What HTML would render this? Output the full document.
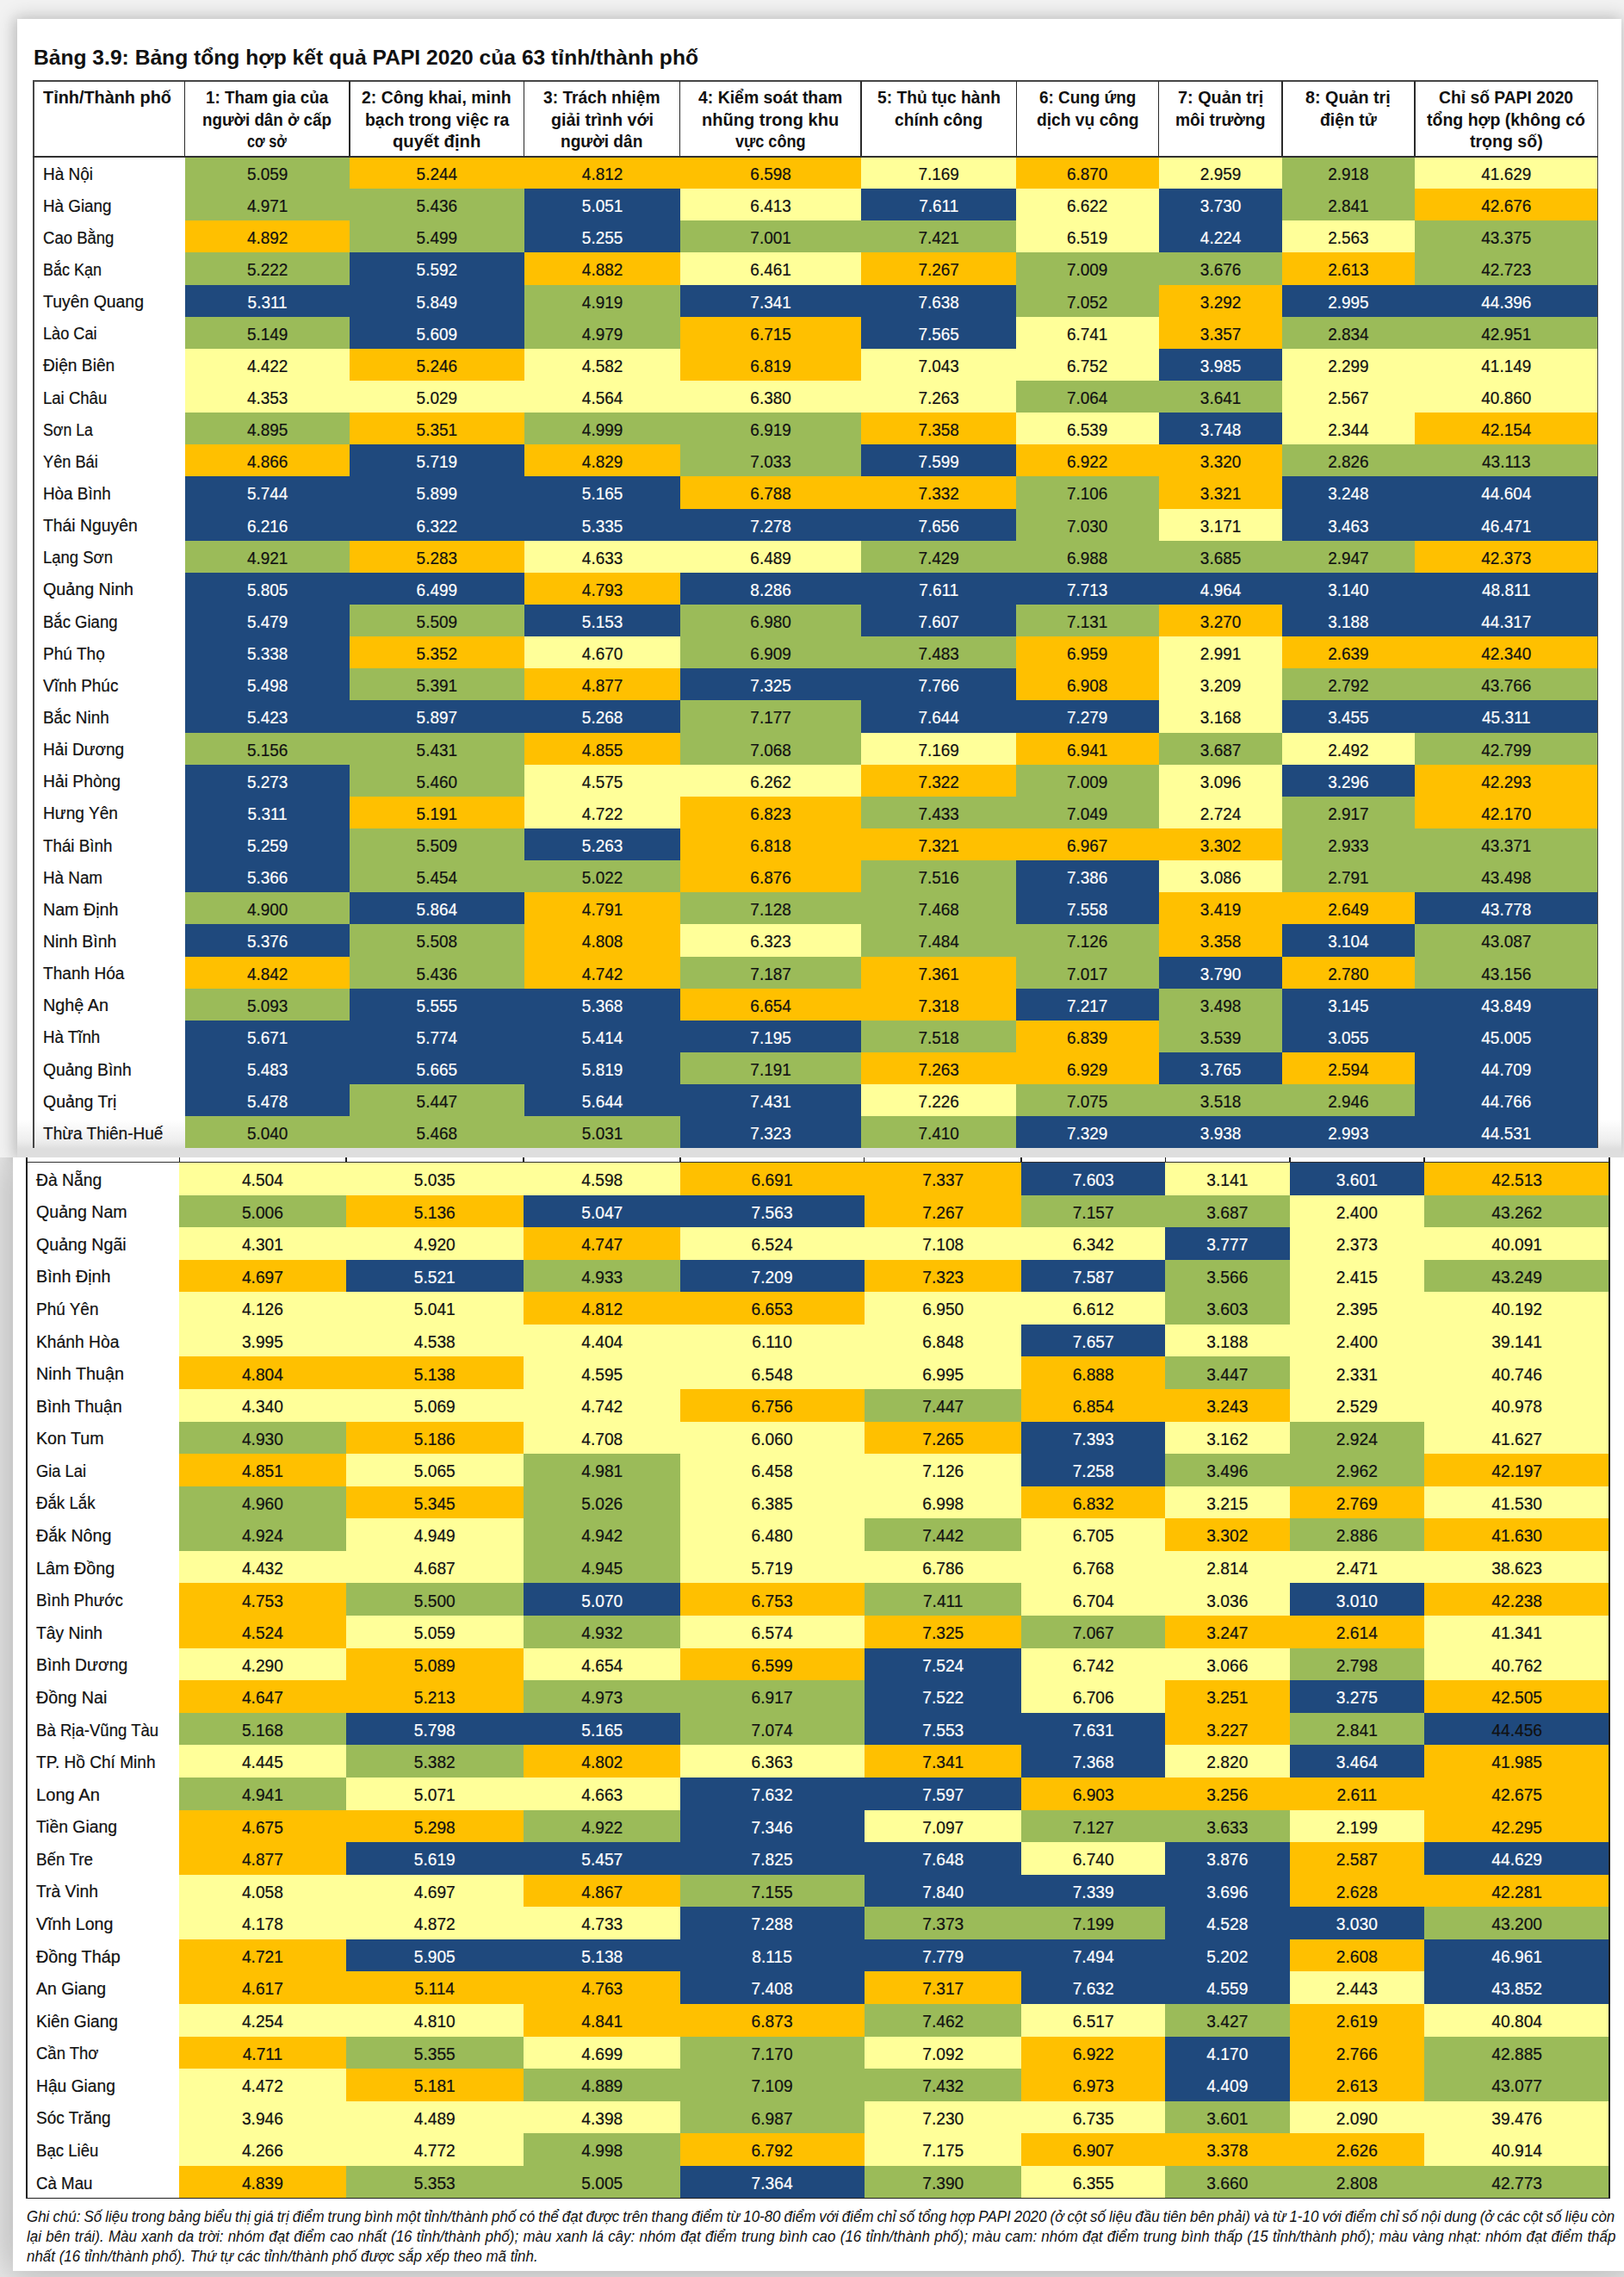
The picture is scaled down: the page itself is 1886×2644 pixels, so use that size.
<!DOCTYPE html>
<html lang="vi"><head><meta charset="utf-8"><title>Bảng 3.9 PAPI 2020</title>
<style>
html,body{margin:0;padding:0}
html{width:1886px;height:2644px;overflow:hidden}
body{width:1886px;height:2644px;overflow:hidden}
#root{width:1886px;height:2644px;position:relative;overflow:hidden;background:#f2f2f2;font-family:"Liberation Sans",sans-serif;color:#111}
.pg{position:absolute;background:#fff}
#p1{left:20px;top:22px;width:1863px;height:1322px;box-shadow:0 0 20px 3px rgba(0,0,0,.18),-4px 0 12px rgba(0,0,0,.07)}
#g1{position:absolute;left:20px;top:1300px;width:1863px;height:44px;background:linear-gradient(rgba(224,224,224,0),rgba(224,224,224,.55) 55%,#dedede 78%,#dedede)}
#p2{left:15px;top:1344px;width:1877px;height:1293px;box-shadow:0 0 50px 12px rgba(0,0,0,.25);clip-path:inset(0 -80px -80px -80px)}
.c{position:absolute;box-sizing:border-box}
.t{position:absolute;white-space:nowrap;transform-origin:0 50%;line-height:1}
.n{position:absolute;text-align:center;white-space:nowrap;line-height:1}
.w{color:#fff}
.ln{position:absolute;background:#464646}
.l2{background:#1e1e1e}

.n{font-size:20.2px;transform:scaleX(0.94)}
.nm{font-size:19.5px}
.n,.nm{-webkit-text-stroke:.2px}
.hd{font-size:20px;font-weight:bold}
.ti{font-size:24px;font-weight:bold}
.ft{font-size:18px;font-style:italic}
</style></head><body><div id="root">
<div class="pg" id="p1"></div>
<div id="g1"></div>
<div class="pg" id="p2"></div>
<div class="t ti" id="title" style="left:39.00px;top:54.50px;transform:scaleX(1.0256);">Bảng 3.9: Bảng tổng hợp kết quả PAPI 2020 của 63 tỉnh/thành phố</div>
<div class="c" style="left:214.50px;top:182.05px;width:192.30px;height:38.14px;background:#9bbb59"></div>
<div class="c" style="left:405.80px;top:182.05px;width:595.10px;height:38.14px;background:#ffc000"></div>
<div class="c" style="left:999.90px;top:182.05px;width:181.40px;height:38.14px;background:#ffff99"></div>
<div class="c" style="left:1180.30px;top:182.05px;width:166.40px;height:38.14px;background:#ffc000"></div>
<div class="c" style="left:1345.70px;top:182.05px;width:144.20px;height:38.14px;background:#ffff99"></div>
<div class="c" style="left:1488.90px;top:182.05px;width:154.90px;height:38.14px;background:#9bbb59"></div>
<div class="c" style="left:1642.80px;top:182.05px;width:212.70px;height:38.14px;background:#ffff99"></div>
<div class="t nm" id="an0" style="left:50.30px;top:192.57px;transform:scaleX(0.9725);">Hà Nội</div>
<div class="n" style="left:214.50px;top:192.02px;width:191.30px">5.059</div>
<div class="n" style="left:405.80px;top:192.02px;width:202.70px">5.244</div>
<div class="n" style="left:608.50px;top:192.02px;width:181.20px">4.812</div>
<div class="n" style="left:789.70px;top:192.02px;width:210.20px">6.598</div>
<div class="n" style="left:999.90px;top:192.02px;width:180.40px">7.169</div>
<div class="n" style="left:1180.30px;top:192.02px;width:165.40px">6.870</div>
<div class="n" style="left:1345.70px;top:192.02px;width:143.20px">2.959</div>
<div class="n" style="left:1488.90px;top:192.02px;width:153.90px">2.918</div>
<div class="n" style="left:1642.80px;top:192.02px;width:212.70px">41.629</div>
<div class="c" style="left:214.50px;top:219.19px;width:395.00px;height:38.14px;background:#9bbb59"></div>
<div class="c" style="left:608.50px;top:219.19px;width:182.20px;height:38.14px;background:#1f497d"></div>
<div class="c" style="left:789.70px;top:219.19px;width:211.20px;height:38.14px;background:#ffff99"></div>
<div class="c" style="left:999.90px;top:219.19px;width:181.40px;height:38.14px;background:#1f497d"></div>
<div class="c" style="left:1180.30px;top:219.19px;width:166.40px;height:38.14px;background:#ffff99"></div>
<div class="c" style="left:1345.70px;top:219.19px;width:144.20px;height:38.14px;background:#1f497d"></div>
<div class="c" style="left:1488.90px;top:219.19px;width:154.90px;height:38.14px;background:#9bbb59"></div>
<div class="c" style="left:1642.80px;top:219.19px;width:212.70px;height:38.14px;background:#ffc000"></div>
<div class="t nm" id="an1" style="left:50.30px;top:229.71px;transform:scaleX(0.9649);">Hà Giang</div>
<div class="n" style="left:214.50px;top:229.16px;width:191.30px">4.971</div>
<div class="n" style="left:405.80px;top:229.16px;width:202.70px">5.436</div>
<div class="n w" style="left:608.50px;top:229.16px;width:181.20px">5.051</div>
<div class="n" style="left:789.70px;top:229.16px;width:210.20px">6.413</div>
<div class="n w" style="left:999.90px;top:229.16px;width:180.40px">7.611</div>
<div class="n" style="left:1180.30px;top:229.16px;width:165.40px">6.622</div>
<div class="n w" style="left:1345.70px;top:229.16px;width:143.20px">3.730</div>
<div class="n" style="left:1488.90px;top:229.16px;width:153.90px">2.841</div>
<div class="n" style="left:1642.80px;top:229.16px;width:212.70px">42.676</div>
<div class="c" style="left:214.50px;top:256.33px;width:192.30px;height:38.14px;background:#ffc000"></div>
<div class="c" style="left:405.80px;top:256.33px;width:203.70px;height:38.14px;background:#9bbb59"></div>
<div class="c" style="left:608.50px;top:256.33px;width:182.20px;height:38.14px;background:#1f497d"></div>
<div class="c" style="left:789.70px;top:256.33px;width:391.60px;height:38.14px;background:#9bbb59"></div>
<div class="c" style="left:1180.30px;top:256.33px;width:166.40px;height:38.14px;background:#ffff99"></div>
<div class="c" style="left:1345.70px;top:256.33px;width:144.20px;height:38.14px;background:#1f497d"></div>
<div class="c" style="left:1488.90px;top:256.33px;width:154.90px;height:38.14px;background:#ffff99"></div>
<div class="c" style="left:1642.80px;top:256.33px;width:212.70px;height:38.14px;background:#9bbb59"></div>
<div class="t nm" id="an2" style="left:50.30px;top:266.85px;transform:scaleX(0.9499);">Cao Bằng</div>
<div class="n" style="left:214.50px;top:266.30px;width:191.30px">4.892</div>
<div class="n" style="left:405.80px;top:266.30px;width:202.70px">5.499</div>
<div class="n w" style="left:608.50px;top:266.30px;width:181.20px">5.255</div>
<div class="n" style="left:789.70px;top:266.30px;width:210.20px">7.001</div>
<div class="n" style="left:999.90px;top:266.30px;width:180.40px">7.421</div>
<div class="n" style="left:1180.30px;top:266.30px;width:165.40px">6.519</div>
<div class="n w" style="left:1345.70px;top:266.30px;width:143.20px">4.224</div>
<div class="n" style="left:1488.90px;top:266.30px;width:153.90px">2.563</div>
<div class="n" style="left:1642.80px;top:266.30px;width:212.70px">43.375</div>
<div class="c" style="left:214.50px;top:293.47px;width:192.30px;height:38.14px;background:#9bbb59"></div>
<div class="c" style="left:405.80px;top:293.47px;width:203.70px;height:38.14px;background:#1f497d"></div>
<div class="c" style="left:608.50px;top:293.47px;width:182.20px;height:38.14px;background:#ffc000"></div>
<div class="c" style="left:789.70px;top:293.47px;width:211.20px;height:38.14px;background:#ffff99"></div>
<div class="c" style="left:999.90px;top:293.47px;width:181.40px;height:38.14px;background:#ffc000"></div>
<div class="c" style="left:1180.30px;top:293.47px;width:309.60px;height:38.14px;background:#9bbb59"></div>
<div class="c" style="left:1488.90px;top:293.47px;width:154.90px;height:38.14px;background:#ffc000"></div>
<div class="c" style="left:1642.80px;top:293.47px;width:212.70px;height:38.14px;background:#9bbb59"></div>
<div class="t nm" id="an3" style="left:50.30px;top:303.99px;transform:scaleX(0.9207);">Bắc Kạn</div>
<div class="n" style="left:214.50px;top:303.44px;width:191.30px">5.222</div>
<div class="n w" style="left:405.80px;top:303.44px;width:202.70px">5.592</div>
<div class="n" style="left:608.50px;top:303.44px;width:181.20px">4.882</div>
<div class="n" style="left:789.70px;top:303.44px;width:210.20px">6.461</div>
<div class="n" style="left:999.90px;top:303.44px;width:180.40px">7.267</div>
<div class="n" style="left:1180.30px;top:303.44px;width:165.40px">7.009</div>
<div class="n" style="left:1345.70px;top:303.44px;width:143.20px">3.676</div>
<div class="n" style="left:1488.90px;top:303.44px;width:153.90px">2.613</div>
<div class="n" style="left:1642.80px;top:303.44px;width:212.70px">42.723</div>
<div class="c" style="left:214.50px;top:330.61px;width:395.00px;height:38.14px;background:#1f497d"></div>
<div class="c" style="left:608.50px;top:330.61px;width:182.20px;height:38.14px;background:#9bbb59"></div>
<div class="c" style="left:789.70px;top:330.61px;width:391.60px;height:38.14px;background:#1f497d"></div>
<div class="c" style="left:1180.30px;top:330.61px;width:166.40px;height:38.14px;background:#9bbb59"></div>
<div class="c" style="left:1345.70px;top:330.61px;width:144.20px;height:38.14px;background:#ffc000"></div>
<div class="c" style="left:1488.90px;top:330.61px;width:366.60px;height:38.14px;background:#1f497d"></div>
<div class="t nm" id="an4" style="left:50.30px;top:341.13px;transform:scaleX(0.9958);">Tuyên Quang</div>
<div class="n w" style="left:214.50px;top:340.58px;width:191.30px">5.311</div>
<div class="n w" style="left:405.80px;top:340.58px;width:202.70px">5.849</div>
<div class="n" style="left:608.50px;top:340.58px;width:181.20px">4.919</div>
<div class="n w" style="left:789.70px;top:340.58px;width:210.20px">7.341</div>
<div class="n w" style="left:999.90px;top:340.58px;width:180.40px">7.638</div>
<div class="n" style="left:1180.30px;top:340.58px;width:165.40px">7.052</div>
<div class="n" style="left:1345.70px;top:340.58px;width:143.20px">3.292</div>
<div class="n w" style="left:1488.90px;top:340.58px;width:153.90px">2.995</div>
<div class="n w" style="left:1642.80px;top:340.58px;width:212.70px">44.396</div>
<div class="c" style="left:214.50px;top:367.75px;width:192.30px;height:38.14px;background:#9bbb59"></div>
<div class="c" style="left:405.80px;top:367.75px;width:203.70px;height:38.14px;background:#1f497d"></div>
<div class="c" style="left:608.50px;top:367.75px;width:182.20px;height:38.14px;background:#9bbb59"></div>
<div class="c" style="left:789.70px;top:367.75px;width:211.20px;height:38.14px;background:#ffc000"></div>
<div class="c" style="left:999.90px;top:367.75px;width:181.40px;height:38.14px;background:#1f497d"></div>
<div class="c" style="left:1180.30px;top:367.75px;width:166.40px;height:38.14px;background:#ffff99"></div>
<div class="c" style="left:1345.70px;top:367.75px;width:144.20px;height:38.14px;background:#ffc000"></div>
<div class="c" style="left:1488.90px;top:367.75px;width:366.60px;height:38.14px;background:#9bbb59"></div>
<div class="t nm" id="an5" style="left:50.30px;top:378.27px;transform:scaleX(0.9317);">Lào Cai</div>
<div class="n" style="left:214.50px;top:377.72px;width:191.30px">5.149</div>
<div class="n w" style="left:405.80px;top:377.72px;width:202.70px">5.609</div>
<div class="n" style="left:608.50px;top:377.72px;width:181.20px">4.979</div>
<div class="n" style="left:789.70px;top:377.72px;width:210.20px">6.715</div>
<div class="n w" style="left:999.90px;top:377.72px;width:180.40px">7.565</div>
<div class="n" style="left:1180.30px;top:377.72px;width:165.40px">6.741</div>
<div class="n" style="left:1345.70px;top:377.72px;width:143.20px">3.357</div>
<div class="n" style="left:1488.90px;top:377.72px;width:153.90px">2.834</div>
<div class="n" style="left:1642.80px;top:377.72px;width:212.70px">42.951</div>
<div class="c" style="left:214.50px;top:404.89px;width:192.30px;height:38.14px;background:#ffff99"></div>
<div class="c" style="left:405.80px;top:404.89px;width:203.70px;height:38.14px;background:#ffc000"></div>
<div class="c" style="left:608.50px;top:404.89px;width:182.20px;height:38.14px;background:#ffff99"></div>
<div class="c" style="left:789.70px;top:404.89px;width:211.20px;height:38.14px;background:#ffc000"></div>
<div class="c" style="left:999.90px;top:404.89px;width:346.80px;height:38.14px;background:#ffff99"></div>
<div class="c" style="left:1345.70px;top:404.89px;width:144.20px;height:38.14px;background:#1f497d"></div>
<div class="c" style="left:1488.90px;top:404.89px;width:366.60px;height:38.14px;background:#ffff99"></div>
<div class="t nm" id="an6" style="left:50.30px;top:415.41px;transform:scaleX(0.9851);">Điện Biên</div>
<div class="n" style="left:214.50px;top:414.86px;width:191.30px">4.422</div>
<div class="n" style="left:405.80px;top:414.86px;width:202.70px">5.246</div>
<div class="n" style="left:608.50px;top:414.86px;width:181.20px">4.582</div>
<div class="n" style="left:789.70px;top:414.86px;width:210.20px">6.819</div>
<div class="n" style="left:999.90px;top:414.86px;width:180.40px">7.043</div>
<div class="n" style="left:1180.30px;top:414.86px;width:165.40px">6.752</div>
<div class="n w" style="left:1345.70px;top:414.86px;width:143.20px">3.985</div>
<div class="n" style="left:1488.90px;top:414.86px;width:153.90px">2.299</div>
<div class="n" style="left:1642.80px;top:414.86px;width:212.70px">41.149</div>
<div class="c" style="left:214.50px;top:442.03px;width:966.80px;height:38.14px;background:#ffff99"></div>
<div class="c" style="left:1180.30px;top:442.03px;width:309.60px;height:38.14px;background:#9bbb59"></div>
<div class="c" style="left:1488.90px;top:442.03px;width:366.60px;height:38.14px;background:#ffff99"></div>
<div class="t nm" id="an7" style="left:50.30px;top:452.55px;transform:scaleX(0.9507);">Lai Châu</div>
<div class="n" style="left:214.50px;top:452.00px;width:191.30px">4.353</div>
<div class="n" style="left:405.80px;top:452.00px;width:202.70px">5.029</div>
<div class="n" style="left:608.50px;top:452.00px;width:181.20px">4.564</div>
<div class="n" style="left:789.70px;top:452.00px;width:210.20px">6.380</div>
<div class="n" style="left:999.90px;top:452.00px;width:180.40px">7.263</div>
<div class="n" style="left:1180.30px;top:452.00px;width:165.40px">7.064</div>
<div class="n" style="left:1345.70px;top:452.00px;width:143.20px">3.641</div>
<div class="n" style="left:1488.90px;top:452.00px;width:153.90px">2.567</div>
<div class="n" style="left:1642.80px;top:452.00px;width:212.70px">40.860</div>
<div class="c" style="left:214.50px;top:479.17px;width:192.30px;height:38.14px;background:#9bbb59"></div>
<div class="c" style="left:405.80px;top:479.17px;width:203.70px;height:38.14px;background:#ffc000"></div>
<div class="c" style="left:608.50px;top:479.17px;width:392.40px;height:38.14px;background:#9bbb59"></div>
<div class="c" style="left:999.90px;top:479.17px;width:181.40px;height:38.14px;background:#ffc000"></div>
<div class="c" style="left:1180.30px;top:479.17px;width:166.40px;height:38.14px;background:#ffff99"></div>
<div class="c" style="left:1345.70px;top:479.17px;width:144.20px;height:38.14px;background:#1f497d"></div>
<div class="c" style="left:1488.90px;top:479.17px;width:154.90px;height:38.14px;background:#ffff99"></div>
<div class="c" style="left:1642.80px;top:479.17px;width:212.70px;height:38.14px;background:#ffc000"></div>
<div class="t nm" id="an8" style="left:50.30px;top:489.69px;transform:scaleX(0.9067);">Sơn La</div>
<div class="n" style="left:214.50px;top:489.14px;width:191.30px">4.895</div>
<div class="n" style="left:405.80px;top:489.14px;width:202.70px">5.351</div>
<div class="n" style="left:608.50px;top:489.14px;width:181.20px">4.999</div>
<div class="n" style="left:789.70px;top:489.14px;width:210.20px">6.919</div>
<div class="n" style="left:999.90px;top:489.14px;width:180.40px">7.358</div>
<div class="n" style="left:1180.30px;top:489.14px;width:165.40px">6.539</div>
<div class="n w" style="left:1345.70px;top:489.14px;width:143.20px">3.748</div>
<div class="n" style="left:1488.90px;top:489.14px;width:153.90px">2.344</div>
<div class="n" style="left:1642.80px;top:489.14px;width:212.70px">42.154</div>
<div class="c" style="left:214.50px;top:516.31px;width:192.30px;height:38.14px;background:#ffc000"></div>
<div class="c" style="left:405.80px;top:516.31px;width:203.70px;height:38.14px;background:#1f497d"></div>
<div class="c" style="left:608.50px;top:516.31px;width:182.20px;height:38.14px;background:#ffc000"></div>
<div class="c" style="left:789.70px;top:516.31px;width:211.20px;height:38.14px;background:#9bbb59"></div>
<div class="c" style="left:999.90px;top:516.31px;width:181.40px;height:38.14px;background:#1f497d"></div>
<div class="c" style="left:1180.30px;top:516.31px;width:309.60px;height:38.14px;background:#ffc000"></div>
<div class="c" style="left:1488.90px;top:516.31px;width:366.60px;height:38.14px;background:#9bbb59"></div>
<div class="t nm" id="an9" style="left:50.30px;top:526.83px;transform:scaleX(0.9338);">Yên Bái</div>
<div class="n" style="left:214.50px;top:526.28px;width:191.30px">4.866</div>
<div class="n w" style="left:405.80px;top:526.28px;width:202.70px">5.719</div>
<div class="n" style="left:608.50px;top:526.28px;width:181.20px">4.829</div>
<div class="n" style="left:789.70px;top:526.28px;width:210.20px">7.033</div>
<div class="n w" style="left:999.90px;top:526.28px;width:180.40px">7.599</div>
<div class="n" style="left:1180.30px;top:526.28px;width:165.40px">6.922</div>
<div class="n" style="left:1345.70px;top:526.28px;width:143.20px">3.320</div>
<div class="n" style="left:1488.90px;top:526.28px;width:153.90px">2.826</div>
<div class="n" style="left:1642.80px;top:526.28px;width:212.70px">43.113</div>
<div class="c" style="left:214.50px;top:553.45px;width:576.20px;height:38.14px;background:#1f497d"></div>
<div class="c" style="left:789.70px;top:553.45px;width:391.60px;height:38.14px;background:#ffc000"></div>
<div class="c" style="left:1180.30px;top:553.45px;width:166.40px;height:38.14px;background:#9bbb59"></div>
<div class="c" style="left:1345.70px;top:553.45px;width:144.20px;height:38.14px;background:#ffc000"></div>
<div class="c" style="left:1488.90px;top:553.45px;width:366.60px;height:38.14px;background:#1f497d"></div>
<div class="t nm" id="an10" style="left:50.30px;top:563.97px;transform:scaleX(0.9672);">Hòa Bình</div>
<div class="n w" style="left:214.50px;top:563.42px;width:191.30px">5.744</div>
<div class="n w" style="left:405.80px;top:563.42px;width:202.70px">5.899</div>
<div class="n w" style="left:608.50px;top:563.42px;width:181.20px">5.165</div>
<div class="n" style="left:789.70px;top:563.42px;width:210.20px">6.788</div>
<div class="n" style="left:999.90px;top:563.42px;width:180.40px">7.332</div>
<div class="n" style="left:1180.30px;top:563.42px;width:165.40px">7.106</div>
<div class="n" style="left:1345.70px;top:563.42px;width:143.20px">3.321</div>
<div class="n w" style="left:1488.90px;top:563.42px;width:153.90px">3.248</div>
<div class="n w" style="left:1642.80px;top:563.42px;width:212.70px">44.604</div>
<div class="c" style="left:214.50px;top:590.59px;width:966.80px;height:38.14px;background:#1f497d"></div>
<div class="c" style="left:1180.30px;top:590.59px;width:166.40px;height:38.14px;background:#9bbb59"></div>
<div class="c" style="left:1345.70px;top:590.59px;width:144.20px;height:38.14px;background:#ffff99"></div>
<div class="c" style="left:1488.90px;top:590.59px;width:366.60px;height:38.14px;background:#1f497d"></div>
<div class="t nm" id="an11" style="left:50.30px;top:601.11px;transform:scaleX(0.9922);">Thái Nguyên</div>
<div class="n w" style="left:214.50px;top:600.56px;width:191.30px">6.216</div>
<div class="n w" style="left:405.80px;top:600.56px;width:202.70px">6.322</div>
<div class="n w" style="left:608.50px;top:600.56px;width:181.20px">5.335</div>
<div class="n w" style="left:789.70px;top:600.56px;width:210.20px">7.278</div>
<div class="n w" style="left:999.90px;top:600.56px;width:180.40px">7.656</div>
<div class="n" style="left:1180.30px;top:600.56px;width:165.40px">7.030</div>
<div class="n" style="left:1345.70px;top:600.56px;width:143.20px">3.171</div>
<div class="n w" style="left:1488.90px;top:600.56px;width:153.90px">3.463</div>
<div class="n w" style="left:1642.80px;top:600.56px;width:212.70px">46.471</div>
<div class="c" style="left:214.50px;top:627.73px;width:192.30px;height:38.14px;background:#9bbb59"></div>
<div class="c" style="left:405.80px;top:627.73px;width:203.70px;height:38.14px;background:#ffc000"></div>
<div class="c" style="left:608.50px;top:627.73px;width:392.40px;height:38.14px;background:#ffff99"></div>
<div class="c" style="left:999.90px;top:627.73px;width:643.90px;height:38.14px;background:#9bbb59"></div>
<div class="c" style="left:1642.80px;top:627.73px;width:212.70px;height:38.14px;background:#ffc000"></div>
<div class="t nm" id="an12" style="left:50.30px;top:638.25px;transform:scaleX(0.9478);">Lạng Sơn</div>
<div class="n" style="left:214.50px;top:637.70px;width:191.30px">4.921</div>
<div class="n" style="left:405.80px;top:637.70px;width:202.70px">5.283</div>
<div class="n" style="left:608.50px;top:637.70px;width:181.20px">4.633</div>
<div class="n" style="left:789.70px;top:637.70px;width:210.20px">6.489</div>
<div class="n" style="left:999.90px;top:637.70px;width:180.40px">7.429</div>
<div class="n" style="left:1180.30px;top:637.70px;width:165.40px">6.988</div>
<div class="n" style="left:1345.70px;top:637.70px;width:143.20px">3.685</div>
<div class="n" style="left:1488.90px;top:637.70px;width:153.90px">2.947</div>
<div class="n" style="left:1642.80px;top:637.70px;width:212.70px">42.373</div>
<div class="c" style="left:214.50px;top:664.87px;width:395.00px;height:38.14px;background:#1f497d"></div>
<div class="c" style="left:608.50px;top:664.87px;width:182.20px;height:38.14px;background:#ffc000"></div>
<div class="c" style="left:789.70px;top:664.87px;width:1065.80px;height:38.14px;background:#1f497d"></div>
<div class="t nm" id="an13" style="left:50.30px;top:675.39px;transform:scaleX(1.0092);">Quảng Ninh</div>
<div class="n w" style="left:214.50px;top:674.84px;width:191.30px">5.805</div>
<div class="n w" style="left:405.80px;top:674.84px;width:202.70px">6.499</div>
<div class="n" style="left:608.50px;top:674.84px;width:181.20px">4.793</div>
<div class="n w" style="left:789.70px;top:674.84px;width:210.20px">8.286</div>
<div class="n w" style="left:999.90px;top:674.84px;width:180.40px">7.611</div>
<div class="n w" style="left:1180.30px;top:674.84px;width:165.40px">7.713</div>
<div class="n w" style="left:1345.70px;top:674.84px;width:143.20px">4.964</div>
<div class="n w" style="left:1488.90px;top:674.84px;width:153.90px">3.140</div>
<div class="n w" style="left:1642.80px;top:674.84px;width:212.70px">48.811</div>
<div class="c" style="left:214.50px;top:702.01px;width:192.30px;height:38.14px;background:#1f497d"></div>
<div class="c" style="left:405.80px;top:702.01px;width:203.70px;height:38.14px;background:#9bbb59"></div>
<div class="c" style="left:608.50px;top:702.01px;width:182.20px;height:38.14px;background:#1f497d"></div>
<div class="c" style="left:789.70px;top:702.01px;width:211.20px;height:38.14px;background:#9bbb59"></div>
<div class="c" style="left:999.90px;top:702.01px;width:181.40px;height:38.14px;background:#1f497d"></div>
<div class="c" style="left:1180.30px;top:702.01px;width:166.40px;height:38.14px;background:#9bbb59"></div>
<div class="c" style="left:1345.70px;top:702.01px;width:144.20px;height:38.14px;background:#ffc000"></div>
<div class="c" style="left:1488.90px;top:702.01px;width:366.60px;height:38.14px;background:#1f497d"></div>
<div class="t nm" id="an14" style="left:50.30px;top:712.53px;transform:scaleX(0.9502);">Bắc Giang</div>
<div class="n w" style="left:214.50px;top:711.98px;width:191.30px">5.479</div>
<div class="n" style="left:405.80px;top:711.98px;width:202.70px">5.509</div>
<div class="n w" style="left:608.50px;top:711.98px;width:181.20px">5.153</div>
<div class="n" style="left:789.70px;top:711.98px;width:210.20px">6.980</div>
<div class="n w" style="left:999.90px;top:711.98px;width:180.40px">7.607</div>
<div class="n" style="left:1180.30px;top:711.98px;width:165.40px">7.131</div>
<div class="n" style="left:1345.70px;top:711.98px;width:143.20px">3.270</div>
<div class="n w" style="left:1488.90px;top:711.98px;width:153.90px">3.188</div>
<div class="n w" style="left:1642.80px;top:711.98px;width:212.70px">44.317</div>
<div class="c" style="left:214.50px;top:739.15px;width:192.30px;height:38.14px;background:#1f497d"></div>
<div class="c" style="left:405.80px;top:739.15px;width:203.70px;height:38.14px;background:#ffc000"></div>
<div class="c" style="left:608.50px;top:739.15px;width:182.20px;height:38.14px;background:#ffff99"></div>
<div class="c" style="left:789.70px;top:739.15px;width:391.60px;height:38.14px;background:#9bbb59"></div>
<div class="c" style="left:1180.30px;top:739.15px;width:166.40px;height:38.14px;background:#ffc000"></div>
<div class="c" style="left:1345.70px;top:739.15px;width:144.20px;height:38.14px;background:#ffff99"></div>
<div class="c" style="left:1488.90px;top:739.15px;width:366.60px;height:38.14px;background:#ffc000"></div>
<div class="t nm" id="an15" style="left:50.30px;top:749.68px;transform:scaleX(0.9783);">Phú Thọ</div>
<div class="n w" style="left:214.50px;top:749.13px;width:191.30px">5.338</div>
<div class="n" style="left:405.80px;top:749.13px;width:202.70px">5.352</div>
<div class="n" style="left:608.50px;top:749.13px;width:181.20px">4.670</div>
<div class="n" style="left:789.70px;top:749.13px;width:210.20px">6.909</div>
<div class="n" style="left:999.90px;top:749.13px;width:180.40px">7.483</div>
<div class="n" style="left:1180.30px;top:749.13px;width:165.40px">6.959</div>
<div class="n" style="left:1345.70px;top:749.13px;width:143.20px">2.991</div>
<div class="n" style="left:1488.90px;top:749.13px;width:153.90px">2.639</div>
<div class="n" style="left:1642.80px;top:749.13px;width:212.70px">42.340</div>
<div class="c" style="left:214.50px;top:776.30px;width:192.30px;height:38.14px;background:#1f497d"></div>
<div class="c" style="left:405.80px;top:776.30px;width:203.70px;height:38.14px;background:#9bbb59"></div>
<div class="c" style="left:608.50px;top:776.30px;width:182.20px;height:38.14px;background:#ffc000"></div>
<div class="c" style="left:789.70px;top:776.30px;width:391.60px;height:38.14px;background:#1f497d"></div>
<div class="c" style="left:1180.30px;top:776.30px;width:166.40px;height:38.14px;background:#ffc000"></div>
<div class="c" style="left:1345.70px;top:776.30px;width:144.20px;height:38.14px;background:#ffff99"></div>
<div class="c" style="left:1488.90px;top:776.30px;width:366.60px;height:38.14px;background:#9bbb59"></div>
<div class="t nm" id="an16" style="left:50.30px;top:786.82px;transform:scaleX(0.9708);">Vĩnh Phúc</div>
<div class="n w" style="left:214.50px;top:786.27px;width:191.30px">5.498</div>
<div class="n" style="left:405.80px;top:786.27px;width:202.70px">5.391</div>
<div class="n" style="left:608.50px;top:786.27px;width:181.20px">4.877</div>
<div class="n w" style="left:789.70px;top:786.27px;width:210.20px">7.325</div>
<div class="n w" style="left:999.90px;top:786.27px;width:180.40px">7.766</div>
<div class="n" style="left:1180.30px;top:786.27px;width:165.40px">6.908</div>
<div class="n" style="left:1345.70px;top:786.27px;width:143.20px">3.209</div>
<div class="n" style="left:1488.90px;top:786.27px;width:153.90px">2.792</div>
<div class="n" style="left:1642.80px;top:786.27px;width:212.70px">43.766</div>
<div class="c" style="left:214.50px;top:813.44px;width:576.20px;height:38.14px;background:#1f497d"></div>
<div class="c" style="left:789.70px;top:813.44px;width:211.20px;height:38.14px;background:#9bbb59"></div>
<div class="c" style="left:999.90px;top:813.44px;width:346.80px;height:38.14px;background:#1f497d"></div>
<div class="c" style="left:1345.70px;top:813.44px;width:144.20px;height:38.14px;background:#ffff99"></div>
<div class="c" style="left:1488.90px;top:813.44px;width:366.60px;height:38.14px;background:#1f497d"></div>
<div class="t nm" id="an17" style="left:50.30px;top:823.96px;transform:scaleX(0.9690);">Bắc Ninh</div>
<div class="n w" style="left:214.50px;top:823.41px;width:191.30px">5.423</div>
<div class="n w" style="left:405.80px;top:823.41px;width:202.70px">5.897</div>
<div class="n w" style="left:608.50px;top:823.41px;width:181.20px">5.268</div>
<div class="n" style="left:789.70px;top:823.41px;width:210.20px">7.177</div>
<div class="n w" style="left:999.90px;top:823.41px;width:180.40px">7.644</div>
<div class="n w" style="left:1180.30px;top:823.41px;width:165.40px">7.279</div>
<div class="n" style="left:1345.70px;top:823.41px;width:143.20px">3.168</div>
<div class="n w" style="left:1488.90px;top:823.41px;width:153.90px">3.455</div>
<div class="n w" style="left:1642.80px;top:823.41px;width:212.70px">45.311</div>
<div class="c" style="left:214.50px;top:850.58px;width:395.00px;height:38.14px;background:#9bbb59"></div>
<div class="c" style="left:608.50px;top:850.58px;width:182.20px;height:38.14px;background:#ffc000"></div>
<div class="c" style="left:789.70px;top:850.58px;width:211.20px;height:38.14px;background:#9bbb59"></div>
<div class="c" style="left:999.90px;top:850.58px;width:181.40px;height:38.14px;background:#ffff99"></div>
<div class="c" style="left:1180.30px;top:850.58px;width:166.40px;height:38.14px;background:#ffc000"></div>
<div class="c" style="left:1345.70px;top:850.58px;width:144.20px;height:38.14px;background:#9bbb59"></div>
<div class="c" style="left:1488.90px;top:850.58px;width:154.90px;height:38.14px;background:#ffff99"></div>
<div class="c" style="left:1642.80px;top:850.58px;width:212.70px;height:38.14px;background:#9bbb59"></div>
<div class="t nm" id="an18" style="left:50.30px;top:861.10px;transform:scaleX(0.9785);">Hải Dương</div>
<div class="n" style="left:214.50px;top:860.55px;width:191.30px">5.156</div>
<div class="n" style="left:405.80px;top:860.55px;width:202.70px">5.431</div>
<div class="n" style="left:608.50px;top:860.55px;width:181.20px">4.855</div>
<div class="n" style="left:789.70px;top:860.55px;width:210.20px">7.068</div>
<div class="n" style="left:999.90px;top:860.55px;width:180.40px">7.169</div>
<div class="n" style="left:1180.30px;top:860.55px;width:165.40px">6.941</div>
<div class="n" style="left:1345.70px;top:860.55px;width:143.20px">3.687</div>
<div class="n" style="left:1488.90px;top:860.55px;width:153.90px">2.492</div>
<div class="n" style="left:1642.80px;top:860.55px;width:212.70px">42.799</div>
<div class="c" style="left:214.50px;top:887.72px;width:192.30px;height:38.14px;background:#1f497d"></div>
<div class="c" style="left:405.80px;top:887.72px;width:203.70px;height:38.14px;background:#9bbb59"></div>
<div class="c" style="left:608.50px;top:887.72px;width:392.40px;height:38.14px;background:#ffff99"></div>
<div class="c" style="left:999.90px;top:887.72px;width:181.40px;height:38.14px;background:#ffc000"></div>
<div class="c" style="left:1180.30px;top:887.72px;width:166.40px;height:38.14px;background:#9bbb59"></div>
<div class="c" style="left:1345.70px;top:887.72px;width:144.20px;height:38.14px;background:#ffff99"></div>
<div class="c" style="left:1488.90px;top:887.72px;width:154.90px;height:38.14px;background:#1f497d"></div>
<div class="c" style="left:1642.80px;top:887.72px;width:212.70px;height:38.14px;background:#ffc000"></div>
<div class="t nm" id="an19" style="left:50.30px;top:898.24px;transform:scaleX(0.9889);">Hải Phòng</div>
<div class="n w" style="left:214.50px;top:897.69px;width:191.30px">5.273</div>
<div class="n" style="left:405.80px;top:897.69px;width:202.70px">5.460</div>
<div class="n" style="left:608.50px;top:897.69px;width:181.20px">4.575</div>
<div class="n" style="left:789.70px;top:897.69px;width:210.20px">6.262</div>
<div class="n" style="left:999.90px;top:897.69px;width:180.40px">7.322</div>
<div class="n" style="left:1180.30px;top:897.69px;width:165.40px">7.009</div>
<div class="n" style="left:1345.70px;top:897.69px;width:143.20px">3.096</div>
<div class="n w" style="left:1488.90px;top:897.69px;width:153.90px">3.296</div>
<div class="n" style="left:1642.80px;top:897.69px;width:212.70px">42.293</div>
<div class="c" style="left:214.50px;top:924.86px;width:192.30px;height:38.14px;background:#1f497d"></div>
<div class="c" style="left:405.80px;top:924.86px;width:203.70px;height:38.14px;background:#ffc000"></div>
<div class="c" style="left:608.50px;top:924.86px;width:182.20px;height:38.14px;background:#ffff99"></div>
<div class="c" style="left:789.70px;top:924.86px;width:211.20px;height:38.14px;background:#ffc000"></div>
<div class="c" style="left:999.90px;top:924.86px;width:346.80px;height:38.14px;background:#9bbb59"></div>
<div class="c" style="left:1345.70px;top:924.86px;width:144.20px;height:38.14px;background:#ffff99"></div>
<div class="c" style="left:1488.90px;top:924.86px;width:154.90px;height:38.14px;background:#9bbb59"></div>
<div class="c" style="left:1642.80px;top:924.86px;width:212.70px;height:38.14px;background:#ffc000"></div>
<div class="t nm" id="an20" style="left:50.30px;top:935.38px;transform:scaleX(0.9814);">Hưng Yên</div>
<div class="n w" style="left:214.50px;top:934.83px;width:191.30px">5.311</div>
<div class="n" style="left:405.80px;top:934.83px;width:202.70px">5.191</div>
<div class="n" style="left:608.50px;top:934.83px;width:181.20px">4.722</div>
<div class="n" style="left:789.70px;top:934.83px;width:210.20px">6.823</div>
<div class="n" style="left:999.90px;top:934.83px;width:180.40px">7.433</div>
<div class="n" style="left:1180.30px;top:934.83px;width:165.40px">7.049</div>
<div class="n" style="left:1345.70px;top:934.83px;width:143.20px">2.724</div>
<div class="n" style="left:1488.90px;top:934.83px;width:153.90px">2.917</div>
<div class="n" style="left:1642.80px;top:934.83px;width:212.70px">42.170</div>
<div class="c" style="left:214.50px;top:962.00px;width:192.30px;height:38.14px;background:#1f497d"></div>
<div class="c" style="left:405.80px;top:962.00px;width:203.70px;height:38.14px;background:#9bbb59"></div>
<div class="c" style="left:608.50px;top:962.00px;width:182.20px;height:38.14px;background:#1f497d"></div>
<div class="c" style="left:789.70px;top:962.00px;width:700.20px;height:38.14px;background:#ffc000"></div>
<div class="c" style="left:1488.90px;top:962.00px;width:366.60px;height:38.14px;background:#9bbb59"></div>
<div class="t nm" id="an21" style="left:50.30px;top:972.52px;transform:scaleX(0.9634);">Thái Bình</div>
<div class="n w" style="left:214.50px;top:971.97px;width:191.30px">5.259</div>
<div class="n" style="left:405.80px;top:971.97px;width:202.70px">5.509</div>
<div class="n w" style="left:608.50px;top:971.97px;width:181.20px">5.263</div>
<div class="n" style="left:789.70px;top:971.97px;width:210.20px">6.818</div>
<div class="n" style="left:999.90px;top:971.97px;width:180.40px">7.321</div>
<div class="n" style="left:1180.30px;top:971.97px;width:165.40px">6.967</div>
<div class="n" style="left:1345.70px;top:971.97px;width:143.20px">3.302</div>
<div class="n" style="left:1488.90px;top:971.97px;width:153.90px">2.933</div>
<div class="n" style="left:1642.80px;top:971.97px;width:212.70px">43.371</div>
<div class="c" style="left:214.50px;top:999.14px;width:192.30px;height:38.14px;background:#1f497d"></div>
<div class="c" style="left:405.80px;top:999.14px;width:384.90px;height:38.14px;background:#9bbb59"></div>
<div class="c" style="left:789.70px;top:999.14px;width:211.20px;height:38.14px;background:#ffc000"></div>
<div class="c" style="left:999.90px;top:999.14px;width:181.40px;height:38.14px;background:#9bbb59"></div>
<div class="c" style="left:1180.30px;top:999.14px;width:166.40px;height:38.14px;background:#1f497d"></div>
<div class="c" style="left:1345.70px;top:999.14px;width:144.20px;height:38.14px;background:#ffff99"></div>
<div class="c" style="left:1488.90px;top:999.14px;width:366.60px;height:38.14px;background:#9bbb59"></div>
<div class="t nm" id="an22" style="left:50.30px;top:1009.66px;transform:scaleX(0.9654);">Hà Nam</div>
<div class="n w" style="left:214.50px;top:1009.11px;width:191.30px">5.366</div>
<div class="n" style="left:405.80px;top:1009.11px;width:202.70px">5.454</div>
<div class="n" style="left:608.50px;top:1009.11px;width:181.20px">5.022</div>
<div class="n" style="left:789.70px;top:1009.11px;width:210.20px">6.876</div>
<div class="n" style="left:999.90px;top:1009.11px;width:180.40px">7.516</div>
<div class="n w" style="left:1180.30px;top:1009.11px;width:165.40px">7.386</div>
<div class="n" style="left:1345.70px;top:1009.11px;width:143.20px">3.086</div>
<div class="n" style="left:1488.90px;top:1009.11px;width:153.90px">2.791</div>
<div class="n" style="left:1642.80px;top:1009.11px;width:212.70px">43.498</div>
<div class="c" style="left:214.50px;top:1036.28px;width:192.30px;height:38.14px;background:#9bbb59"></div>
<div class="c" style="left:405.80px;top:1036.28px;width:203.70px;height:38.14px;background:#1f497d"></div>
<div class="c" style="left:608.50px;top:1036.28px;width:182.20px;height:38.14px;background:#ffc000"></div>
<div class="c" style="left:789.70px;top:1036.28px;width:391.60px;height:38.14px;background:#9bbb59"></div>
<div class="c" style="left:1180.30px;top:1036.28px;width:166.40px;height:38.14px;background:#1f497d"></div>
<div class="c" style="left:1345.70px;top:1036.28px;width:298.10px;height:38.14px;background:#ffc000"></div>
<div class="c" style="left:1642.80px;top:1036.28px;width:212.70px;height:38.14px;background:#1f497d"></div>
<div class="t nm" id="an23" style="left:50.30px;top:1046.80px;transform:scaleX(1.0078);">Nam Định</div>
<div class="n" style="left:214.50px;top:1046.25px;width:191.30px">4.900</div>
<div class="n w" style="left:405.80px;top:1046.25px;width:202.70px">5.864</div>
<div class="n" style="left:608.50px;top:1046.25px;width:181.20px">4.791</div>
<div class="n" style="left:789.70px;top:1046.25px;width:210.20px">7.128</div>
<div class="n" style="left:999.90px;top:1046.25px;width:180.40px">7.468</div>
<div class="n w" style="left:1180.30px;top:1046.25px;width:165.40px">7.558</div>
<div class="n" style="left:1345.70px;top:1046.25px;width:143.20px">3.419</div>
<div class="n" style="left:1488.90px;top:1046.25px;width:153.90px">2.649</div>
<div class="n w" style="left:1642.80px;top:1046.25px;width:212.70px">43.778</div>
<div class="c" style="left:214.50px;top:1073.42px;width:192.30px;height:38.14px;background:#1f497d"></div>
<div class="c" style="left:405.80px;top:1073.42px;width:203.70px;height:38.14px;background:#9bbb59"></div>
<div class="c" style="left:608.50px;top:1073.42px;width:182.20px;height:38.14px;background:#ffc000"></div>
<div class="c" style="left:789.70px;top:1073.42px;width:211.20px;height:38.14px;background:#ffff99"></div>
<div class="c" style="left:999.90px;top:1073.42px;width:346.80px;height:38.14px;background:#9bbb59"></div>
<div class="c" style="left:1345.70px;top:1073.42px;width:144.20px;height:38.14px;background:#ffc000"></div>
<div class="c" style="left:1488.90px;top:1073.42px;width:154.90px;height:38.14px;background:#1f497d"></div>
<div class="c" style="left:1642.80px;top:1073.42px;width:212.70px;height:38.14px;background:#9bbb59"></div>
<div class="t nm" id="an24" style="left:50.30px;top:1083.94px;transform:scaleX(0.9958);">Ninh Bình</div>
<div class="n w" style="left:214.50px;top:1083.39px;width:191.30px">5.376</div>
<div class="n" style="left:405.80px;top:1083.39px;width:202.70px">5.508</div>
<div class="n" style="left:608.50px;top:1083.39px;width:181.20px">4.808</div>
<div class="n" style="left:789.70px;top:1083.39px;width:210.20px">6.323</div>
<div class="n" style="left:999.90px;top:1083.39px;width:180.40px">7.484</div>
<div class="n" style="left:1180.30px;top:1083.39px;width:165.40px">7.126</div>
<div class="n" style="left:1345.70px;top:1083.39px;width:143.20px">3.358</div>
<div class="n w" style="left:1488.90px;top:1083.39px;width:153.90px">3.104</div>
<div class="n" style="left:1642.80px;top:1083.39px;width:212.70px">43.087</div>
<div class="c" style="left:214.50px;top:1110.56px;width:192.30px;height:38.14px;background:#ffc000"></div>
<div class="c" style="left:405.80px;top:1110.56px;width:203.70px;height:38.14px;background:#9bbb59"></div>
<div class="c" style="left:608.50px;top:1110.56px;width:182.20px;height:38.14px;background:#ffc000"></div>
<div class="c" style="left:789.70px;top:1110.56px;width:211.20px;height:38.14px;background:#9bbb59"></div>
<div class="c" style="left:999.90px;top:1110.56px;width:181.40px;height:38.14px;background:#ffc000"></div>
<div class="c" style="left:1180.30px;top:1110.56px;width:166.40px;height:38.14px;background:#9bbb59"></div>
<div class="c" style="left:1345.70px;top:1110.56px;width:144.20px;height:38.14px;background:#1f497d"></div>
<div class="c" style="left:1488.90px;top:1110.56px;width:154.90px;height:38.14px;background:#ffc000"></div>
<div class="c" style="left:1642.80px;top:1110.56px;width:212.70px;height:38.14px;background:#9bbb59"></div>
<div class="t nm" id="an25" style="left:50.30px;top:1121.08px;transform:scaleX(0.9785);">Thanh Hóa</div>
<div class="n" style="left:214.50px;top:1120.53px;width:191.30px">4.842</div>
<div class="n" style="left:405.80px;top:1120.53px;width:202.70px">5.436</div>
<div class="n" style="left:608.50px;top:1120.53px;width:181.20px">4.742</div>
<div class="n" style="left:789.70px;top:1120.53px;width:210.20px">7.187</div>
<div class="n" style="left:999.90px;top:1120.53px;width:180.40px">7.361</div>
<div class="n" style="left:1180.30px;top:1120.53px;width:165.40px">7.017</div>
<div class="n w" style="left:1345.70px;top:1120.53px;width:143.20px">3.790</div>
<div class="n" style="left:1488.90px;top:1120.53px;width:153.90px">2.780</div>
<div class="n" style="left:1642.80px;top:1120.53px;width:212.70px">43.156</div>
<div class="c" style="left:214.50px;top:1147.70px;width:192.30px;height:38.14px;background:#9bbb59"></div>
<div class="c" style="left:405.80px;top:1147.70px;width:384.90px;height:38.14px;background:#1f497d"></div>
<div class="c" style="left:789.70px;top:1147.70px;width:391.60px;height:38.14px;background:#ffc000"></div>
<div class="c" style="left:1180.30px;top:1147.70px;width:166.40px;height:38.14px;background:#1f497d"></div>
<div class="c" style="left:1345.70px;top:1147.70px;width:144.20px;height:38.14px;background:#9bbb59"></div>
<div class="c" style="left:1488.90px;top:1147.70px;width:366.60px;height:38.14px;background:#1f497d"></div>
<div class="t nm" id="an26" style="left:50.30px;top:1158.22px;transform:scaleX(1.0154);">Nghệ An</div>
<div class="n" style="left:214.50px;top:1157.67px;width:191.30px">5.093</div>
<div class="n w" style="left:405.80px;top:1157.67px;width:202.70px">5.555</div>
<div class="n w" style="left:608.50px;top:1157.67px;width:181.20px">5.368</div>
<div class="n" style="left:789.70px;top:1157.67px;width:210.20px">6.654</div>
<div class="n" style="left:999.90px;top:1157.67px;width:180.40px">7.318</div>
<div class="n w" style="left:1180.30px;top:1157.67px;width:165.40px">7.217</div>
<div class="n" style="left:1345.70px;top:1157.67px;width:143.20px">3.498</div>
<div class="n w" style="left:1488.90px;top:1157.67px;width:153.90px">3.145</div>
<div class="n w" style="left:1642.80px;top:1157.67px;width:212.70px">43.849</div>
<div class="c" style="left:214.50px;top:1184.84px;width:786.40px;height:38.14px;background:#1f497d"></div>
<div class="c" style="left:999.90px;top:1184.84px;width:181.40px;height:38.14px;background:#9bbb59"></div>
<div class="c" style="left:1180.30px;top:1184.84px;width:166.40px;height:38.14px;background:#ffc000"></div>
<div class="c" style="left:1345.70px;top:1184.84px;width:144.20px;height:38.14px;background:#9bbb59"></div>
<div class="c" style="left:1488.90px;top:1184.84px;width:366.60px;height:38.14px;background:#1f497d"></div>
<div class="t nm" id="an27" style="left:50.30px;top:1195.36px;transform:scaleX(0.9605);">Hà Tĩnh</div>
<div class="n w" style="left:214.50px;top:1194.81px;width:191.30px">5.671</div>
<div class="n w" style="left:405.80px;top:1194.81px;width:202.70px">5.774</div>
<div class="n w" style="left:608.50px;top:1194.81px;width:181.20px">5.414</div>
<div class="n w" style="left:789.70px;top:1194.81px;width:210.20px">7.195</div>
<div class="n" style="left:999.90px;top:1194.81px;width:180.40px">7.518</div>
<div class="n" style="left:1180.30px;top:1194.81px;width:165.40px">6.839</div>
<div class="n" style="left:1345.70px;top:1194.81px;width:143.20px">3.539</div>
<div class="n w" style="left:1488.90px;top:1194.81px;width:153.90px">3.055</div>
<div class="n w" style="left:1642.80px;top:1194.81px;width:212.70px">45.005</div>
<div class="c" style="left:214.50px;top:1221.98px;width:576.20px;height:38.14px;background:#1f497d"></div>
<div class="c" style="left:789.70px;top:1221.98px;width:211.20px;height:38.14px;background:#9bbb59"></div>
<div class="c" style="left:999.90px;top:1221.98px;width:346.80px;height:38.14px;background:#ffc000"></div>
<div class="c" style="left:1345.70px;top:1221.98px;width:144.20px;height:38.14px;background:#1f497d"></div>
<div class="c" style="left:1488.90px;top:1221.98px;width:154.90px;height:38.14px;background:#ffc000"></div>
<div class="c" style="left:1642.80px;top:1221.98px;width:212.70px;height:38.14px;background:#1f497d"></div>
<div class="t nm" id="an28" style="left:50.30px;top:1232.50px;transform:scaleX(0.9859);">Quảng Bình</div>
<div class="n w" style="left:214.50px;top:1231.95px;width:191.30px">5.483</div>
<div class="n w" style="left:405.80px;top:1231.95px;width:202.70px">5.665</div>
<div class="n w" style="left:608.50px;top:1231.95px;width:181.20px">5.819</div>
<div class="n" style="left:789.70px;top:1231.95px;width:210.20px">7.191</div>
<div class="n" style="left:999.90px;top:1231.95px;width:180.40px">7.263</div>
<div class="n" style="left:1180.30px;top:1231.95px;width:165.40px">6.929</div>
<div class="n w" style="left:1345.70px;top:1231.95px;width:143.20px">3.765</div>
<div class="n" style="left:1488.90px;top:1231.95px;width:153.90px">2.594</div>
<div class="n w" style="left:1642.80px;top:1231.95px;width:212.70px">44.709</div>
<div class="c" style="left:214.50px;top:1259.12px;width:192.30px;height:38.14px;background:#1f497d"></div>
<div class="c" style="left:405.80px;top:1259.12px;width:203.70px;height:38.14px;background:#9bbb59"></div>
<div class="c" style="left:608.50px;top:1259.12px;width:392.40px;height:38.14px;background:#1f497d"></div>
<div class="c" style="left:999.90px;top:1259.12px;width:181.40px;height:38.14px;background:#ffff99"></div>
<div class="c" style="left:1180.30px;top:1259.12px;width:463.50px;height:38.14px;background:#9bbb59"></div>
<div class="c" style="left:1642.80px;top:1259.12px;width:212.70px;height:38.14px;background:#1f497d"></div>
<div class="t nm" id="an29" style="left:50.30px;top:1269.64px;transform:scaleX(0.9972);">Quảng Trị</div>
<div class="n w" style="left:214.50px;top:1269.09px;width:191.30px">5.478</div>
<div class="n" style="left:405.80px;top:1269.09px;width:202.70px">5.447</div>
<div class="n w" style="left:608.50px;top:1269.09px;width:181.20px">5.644</div>
<div class="n w" style="left:789.70px;top:1269.09px;width:210.20px">7.431</div>
<div class="n" style="left:999.90px;top:1269.09px;width:180.40px">7.226</div>
<div class="n" style="left:1180.30px;top:1269.09px;width:165.40px">7.075</div>
<div class="n" style="left:1345.70px;top:1269.09px;width:143.20px">3.518</div>
<div class="n" style="left:1488.90px;top:1269.09px;width:153.90px">2.946</div>
<div class="n w" style="left:1642.80px;top:1269.09px;width:212.70px">44.766</div>
<div class="c" style="left:214.50px;top:1296.26px;width:576.20px;height:37.14px;background:#9bbb59"></div>
<div class="c" style="left:789.70px;top:1296.26px;width:211.20px;height:37.14px;background:#1f497d"></div>
<div class="c" style="left:999.90px;top:1296.26px;width:181.40px;height:37.14px;background:#9bbb59"></div>
<div class="c" style="left:1180.30px;top:1296.26px;width:675.20px;height:37.14px;background:#1f497d"></div>
<div class="t nm" id="an30" style="left:50.30px;top:1306.78px;transform:scaleX(0.9767);">Thừa Thiên-Huế</div>
<div class="n" style="left:214.50px;top:1306.23px;width:191.30px">5.040</div>
<div class="n" style="left:405.80px;top:1306.23px;width:202.70px">5.468</div>
<div class="n" style="left:608.50px;top:1306.23px;width:181.20px">5.031</div>
<div class="n w" style="left:789.70px;top:1306.23px;width:210.20px">7.323</div>
<div class="n" style="left:999.90px;top:1306.23px;width:180.40px">7.410</div>
<div class="n w" style="left:1180.30px;top:1306.23px;width:165.40px">7.329</div>
<div class="n w" style="left:1345.70px;top:1306.23px;width:143.20px">3.938</div>
<div class="n w" style="left:1488.90px;top:1306.23px;width:153.90px">2.993</div>
<div class="n w" style="left:1642.80px;top:1306.23px;width:212.70px">44.531</div>
<div class="c" style="left:208.40px;top:1350.00px;width:582.90px;height:38.58px;background:#ffff99"></div>
<div class="c" style="left:790.30px;top:1350.00px;width:396.70px;height:38.58px;background:#ffc000"></div>
<div class="c" style="left:1186.00px;top:1350.00px;width:168.40px;height:38.58px;background:#1f497d"></div>
<div class="c" style="left:1353.40px;top:1350.00px;width:145.70px;height:38.58px;background:#ffff99"></div>
<div class="c" style="left:1498.10px;top:1350.00px;width:156.70px;height:38.58px;background:#1f497d"></div>
<div class="c" style="left:1653.80px;top:1350.00px;width:215.40px;height:38.58px;background:#ffc000"></div>
<div class="t nm" id="bn0" style="left:42.00px;top:1360.74px;transform:scaleX(0.9794);font-size:19.71px;">Đà Nẵng</div>
<div class="n" style="left:208.40px;top:1360.08px;width:193.90px;font-size:20.42px">4.504</div>
<div class="n" style="left:402.30px;top:1360.08px;width:205.50px;font-size:20.42px">5.035</div>
<div class="n" style="left:607.80px;top:1360.08px;width:182.50px;font-size:20.42px">4.598</div>
<div class="n" style="left:790.30px;top:1360.08px;width:213.20px;font-size:20.42px">6.691</div>
<div class="n" style="left:1003.50px;top:1360.08px;width:182.50px;font-size:20.42px">7.337</div>
<div class="n w" style="left:1186.00px;top:1360.08px;width:167.40px;font-size:20.42px">7.603</div>
<div class="n" style="left:1353.40px;top:1360.08px;width:144.70px;font-size:20.42px">3.141</div>
<div class="n w" style="left:1498.10px;top:1360.08px;width:155.70px;font-size:20.42px">3.601</div>
<div class="n" style="left:1653.80px;top:1360.08px;width:215.40px;font-size:20.42px">42.513</div>
<div class="c" style="left:208.40px;top:1387.58px;width:194.90px;height:38.58px;background:#9bbb59"></div>
<div class="c" style="left:402.30px;top:1387.58px;width:206.50px;height:38.58px;background:#ffc000"></div>
<div class="c" style="left:607.80px;top:1387.58px;width:396.70px;height:38.58px;background:#1f497d"></div>
<div class="c" style="left:1003.50px;top:1387.58px;width:183.50px;height:38.58px;background:#ffc000"></div>
<div class="c" style="left:1186.00px;top:1387.58px;width:313.10px;height:38.58px;background:#9bbb59"></div>
<div class="c" style="left:1498.10px;top:1387.58px;width:156.70px;height:38.58px;background:#ffff99"></div>
<div class="c" style="left:1653.80px;top:1387.58px;width:215.40px;height:38.58px;background:#9bbb59"></div>
<div class="t nm" id="bn1" style="left:42.00px;top:1398.31px;transform:scaleX(0.9948);font-size:19.71px;">Quảng Nam</div>
<div class="n" style="left:208.40px;top:1397.65px;width:193.90px;font-size:20.42px">5.006</div>
<div class="n" style="left:402.30px;top:1397.65px;width:205.50px;font-size:20.42px">5.136</div>
<div class="n w" style="left:607.80px;top:1397.65px;width:182.50px;font-size:20.42px">5.047</div>
<div class="n w" style="left:790.30px;top:1397.65px;width:213.20px;font-size:20.42px">7.563</div>
<div class="n" style="left:1003.50px;top:1397.65px;width:182.50px;font-size:20.42px">7.267</div>
<div class="n" style="left:1186.00px;top:1397.65px;width:167.40px;font-size:20.42px">7.157</div>
<div class="n" style="left:1353.40px;top:1397.65px;width:144.70px;font-size:20.42px">3.687</div>
<div class="n" style="left:1498.10px;top:1397.65px;width:155.70px;font-size:20.42px">2.400</div>
<div class="n" style="left:1653.80px;top:1397.65px;width:215.40px;font-size:20.42px">43.262</div>
<div class="c" style="left:208.40px;top:1425.15px;width:400.40px;height:38.57px;background:#ffff99"></div>
<div class="c" style="left:607.80px;top:1425.15px;width:183.50px;height:38.57px;background:#ffc000"></div>
<div class="c" style="left:790.30px;top:1425.15px;width:564.10px;height:38.57px;background:#ffff99"></div>
<div class="c" style="left:1353.40px;top:1425.15px;width:145.70px;height:38.57px;background:#1f497d"></div>
<div class="c" style="left:1498.10px;top:1425.15px;width:371.10px;height:38.57px;background:#ffff99"></div>
<div class="t nm" id="bn2" style="left:42.00px;top:1435.89px;transform:scaleX(0.9968);font-size:19.71px;">Quảng Ngãi</div>
<div class="n" style="left:208.40px;top:1435.23px;width:193.90px;font-size:20.42px">4.301</div>
<div class="n" style="left:402.30px;top:1435.23px;width:205.50px;font-size:20.42px">4.920</div>
<div class="n" style="left:607.80px;top:1435.23px;width:182.50px;font-size:20.42px">4.747</div>
<div class="n" style="left:790.30px;top:1435.23px;width:213.20px;font-size:20.42px">6.524</div>
<div class="n" style="left:1003.50px;top:1435.23px;width:182.50px;font-size:20.42px">7.108</div>
<div class="n" style="left:1186.00px;top:1435.23px;width:167.40px;font-size:20.42px">6.342</div>
<div class="n w" style="left:1353.40px;top:1435.23px;width:144.70px;font-size:20.42px">3.777</div>
<div class="n" style="left:1498.10px;top:1435.23px;width:155.70px;font-size:20.42px">2.373</div>
<div class="n" style="left:1653.80px;top:1435.23px;width:215.40px;font-size:20.42px">40.091</div>
<div class="c" style="left:208.40px;top:1462.72px;width:194.90px;height:38.58px;background:#ffc000"></div>
<div class="c" style="left:402.30px;top:1462.72px;width:206.50px;height:38.58px;background:#1f497d"></div>
<div class="c" style="left:607.80px;top:1462.72px;width:183.50px;height:38.58px;background:#9bbb59"></div>
<div class="c" style="left:790.30px;top:1462.72px;width:214.20px;height:38.58px;background:#1f497d"></div>
<div class="c" style="left:1003.50px;top:1462.72px;width:183.50px;height:38.58px;background:#ffc000"></div>
<div class="c" style="left:1186.00px;top:1462.72px;width:168.40px;height:38.58px;background:#1f497d"></div>
<div class="c" style="left:1353.40px;top:1462.72px;width:145.70px;height:38.58px;background:#9bbb59"></div>
<div class="c" style="left:1498.10px;top:1462.72px;width:156.70px;height:38.58px;background:#ffff99"></div>
<div class="c" style="left:1653.80px;top:1462.72px;width:215.40px;height:38.58px;background:#9bbb59"></div>
<div class="t nm" id="bn3" style="left:42.00px;top:1473.46px;transform:scaleX(1.0003);font-size:19.71px;">Bình Định</div>
<div class="n" style="left:208.40px;top:1472.80px;width:193.90px;font-size:20.42px">4.697</div>
<div class="n w" style="left:402.30px;top:1472.80px;width:205.50px;font-size:20.42px">5.521</div>
<div class="n" style="left:607.80px;top:1472.80px;width:182.50px;font-size:20.42px">4.933</div>
<div class="n w" style="left:790.30px;top:1472.80px;width:213.20px;font-size:20.42px">7.209</div>
<div class="n" style="left:1003.50px;top:1472.80px;width:182.50px;font-size:20.42px">7.323</div>
<div class="n w" style="left:1186.00px;top:1472.80px;width:167.40px;font-size:20.42px">7.587</div>
<div class="n" style="left:1353.40px;top:1472.80px;width:144.70px;font-size:20.42px">3.566</div>
<div class="n" style="left:1498.10px;top:1472.80px;width:155.70px;font-size:20.42px">2.415</div>
<div class="n" style="left:1653.80px;top:1472.80px;width:215.40px;font-size:20.42px">43.249</div>
<div class="c" style="left:208.40px;top:1500.30px;width:400.40px;height:38.58px;background:#ffff99"></div>
<div class="c" style="left:607.80px;top:1500.30px;width:396.70px;height:38.58px;background:#ffc000"></div>
<div class="c" style="left:1003.50px;top:1500.30px;width:350.90px;height:38.58px;background:#ffff99"></div>
<div class="c" style="left:1353.40px;top:1500.30px;width:145.70px;height:38.58px;background:#9bbb59"></div>
<div class="c" style="left:1498.10px;top:1500.30px;width:371.10px;height:38.58px;background:#ffff99"></div>
<div class="t nm" id="bn4" style="left:42.00px;top:1511.04px;transform:scaleX(0.9641);font-size:19.71px;">Phú Yên</div>
<div class="n" style="left:208.40px;top:1510.38px;width:193.90px;font-size:20.42px">4.126</div>
<div class="n" style="left:402.30px;top:1510.38px;width:205.50px;font-size:20.42px">5.041</div>
<div class="n" style="left:607.80px;top:1510.38px;width:182.50px;font-size:20.42px">4.812</div>
<div class="n" style="left:790.30px;top:1510.38px;width:213.20px;font-size:20.42px">6.653</div>
<div class="n" style="left:1003.50px;top:1510.38px;width:182.50px;font-size:20.42px">6.950</div>
<div class="n" style="left:1186.00px;top:1510.38px;width:167.40px;font-size:20.42px">6.612</div>
<div class="n" style="left:1353.40px;top:1510.38px;width:144.70px;font-size:20.42px">3.603</div>
<div class="n" style="left:1498.10px;top:1510.38px;width:155.70px;font-size:20.42px">2.395</div>
<div class="n" style="left:1653.80px;top:1510.38px;width:215.40px;font-size:20.42px">40.192</div>
<div class="c" style="left:208.40px;top:1537.88px;width:978.60px;height:38.58px;background:#ffff99"></div>
<div class="c" style="left:1186.00px;top:1537.88px;width:168.40px;height:38.58px;background:#1f497d"></div>
<div class="c" style="left:1353.40px;top:1537.88px;width:515.80px;height:38.58px;background:#ffff99"></div>
<div class="t nm" id="bn5" style="left:42.00px;top:1548.61px;transform:scaleX(0.9785);font-size:19.71px;">Khánh Hòa</div>
<div class="n" style="left:208.40px;top:1547.95px;width:193.90px;font-size:20.42px">3.995</div>
<div class="n" style="left:402.30px;top:1547.95px;width:205.50px;font-size:20.42px">4.538</div>
<div class="n" style="left:607.80px;top:1547.95px;width:182.50px;font-size:20.42px">4.404</div>
<div class="n" style="left:790.30px;top:1547.95px;width:213.20px;font-size:20.42px">6.110</div>
<div class="n" style="left:1003.50px;top:1547.95px;width:182.50px;font-size:20.42px">6.848</div>
<div class="n w" style="left:1186.00px;top:1547.95px;width:167.40px;font-size:20.42px">7.657</div>
<div class="n" style="left:1353.40px;top:1547.95px;width:144.70px;font-size:20.42px">3.188</div>
<div class="n" style="left:1498.10px;top:1547.95px;width:155.70px;font-size:20.42px">2.400</div>
<div class="n" style="left:1653.80px;top:1547.95px;width:215.40px;font-size:20.42px">39.141</div>
<div class="c" style="left:208.40px;top:1575.45px;width:400.40px;height:38.58px;background:#ffc000"></div>
<div class="c" style="left:607.80px;top:1575.45px;width:579.20px;height:38.58px;background:#ffff99"></div>
<div class="c" style="left:1186.00px;top:1575.45px;width:168.40px;height:38.58px;background:#ffc000"></div>
<div class="c" style="left:1353.40px;top:1575.45px;width:145.70px;height:38.58px;background:#9bbb59"></div>
<div class="c" style="left:1498.10px;top:1575.45px;width:371.10px;height:38.58px;background:#ffff99"></div>
<div class="t nm" id="bn6" style="left:42.00px;top:1586.19px;transform:scaleX(1.0063);font-size:19.71px;">Ninh Thuận</div>
<div class="n" style="left:208.40px;top:1585.53px;width:193.90px;font-size:20.42px">4.804</div>
<div class="n" style="left:402.30px;top:1585.53px;width:205.50px;font-size:20.42px">5.138</div>
<div class="n" style="left:607.80px;top:1585.53px;width:182.50px;font-size:20.42px">4.595</div>
<div class="n" style="left:790.30px;top:1585.53px;width:213.20px;font-size:20.42px">6.548</div>
<div class="n" style="left:1003.50px;top:1585.53px;width:182.50px;font-size:20.42px">6.995</div>
<div class="n" style="left:1186.00px;top:1585.53px;width:167.40px;font-size:20.42px">6.888</div>
<div class="n" style="left:1353.40px;top:1585.53px;width:144.70px;font-size:20.42px">3.447</div>
<div class="n" style="left:1498.10px;top:1585.53px;width:155.70px;font-size:20.42px">2.331</div>
<div class="n" style="left:1653.80px;top:1585.53px;width:215.40px;font-size:20.42px">40.746</div>
<div class="c" style="left:208.40px;top:1613.03px;width:582.90px;height:38.57px;background:#ffff99"></div>
<div class="c" style="left:790.30px;top:1613.03px;width:214.20px;height:38.57px;background:#ffc000"></div>
<div class="c" style="left:1003.50px;top:1613.03px;width:183.50px;height:38.57px;background:#9bbb59"></div>
<div class="c" style="left:1186.00px;top:1613.03px;width:313.10px;height:38.57px;background:#ffc000"></div>
<div class="c" style="left:1498.10px;top:1613.03px;width:371.10px;height:38.57px;background:#ffff99"></div>
<div class="t nm" id="bn7" style="left:42.00px;top:1623.76px;transform:scaleX(0.9822);font-size:19.71px;">Bình Thuận</div>
<div class="n" style="left:208.40px;top:1623.10px;width:193.90px;font-size:20.42px">4.340</div>
<div class="n" style="left:402.30px;top:1623.10px;width:205.50px;font-size:20.42px">5.069</div>
<div class="n" style="left:607.80px;top:1623.10px;width:182.50px;font-size:20.42px">4.742</div>
<div class="n" style="left:790.30px;top:1623.10px;width:213.20px;font-size:20.42px">6.756</div>
<div class="n" style="left:1003.50px;top:1623.10px;width:182.50px;font-size:20.42px">7.447</div>
<div class="n" style="left:1186.00px;top:1623.10px;width:167.40px;font-size:20.42px">6.854</div>
<div class="n" style="left:1353.40px;top:1623.10px;width:144.70px;font-size:20.42px">3.243</div>
<div class="n" style="left:1498.10px;top:1623.10px;width:155.70px;font-size:20.42px">2.529</div>
<div class="n" style="left:1653.80px;top:1623.10px;width:215.40px;font-size:20.42px">40.978</div>
<div class="c" style="left:208.40px;top:1650.60px;width:194.90px;height:38.58px;background:#9bbb59"></div>
<div class="c" style="left:402.30px;top:1650.60px;width:206.50px;height:38.58px;background:#ffc000"></div>
<div class="c" style="left:607.80px;top:1650.60px;width:396.70px;height:38.58px;background:#ffff99"></div>
<div class="c" style="left:1003.50px;top:1650.60px;width:183.50px;height:38.58px;background:#ffc000"></div>
<div class="c" style="left:1186.00px;top:1650.60px;width:168.40px;height:38.58px;background:#1f497d"></div>
<div class="c" style="left:1353.40px;top:1650.60px;width:145.70px;height:38.58px;background:#ffff99"></div>
<div class="c" style="left:1498.10px;top:1650.60px;width:156.70px;height:38.58px;background:#9bbb59"></div>
<div class="c" style="left:1653.80px;top:1650.60px;width:215.40px;height:38.58px;background:#ffff99"></div>
<div class="t nm" id="bn8" style="left:42.00px;top:1661.34px;transform:scaleX(0.9981);font-size:19.71px;">Kon Tum</div>
<div class="n" style="left:208.40px;top:1660.68px;width:193.90px;font-size:20.42px">4.930</div>
<div class="n" style="left:402.30px;top:1660.68px;width:205.50px;font-size:20.42px">5.186</div>
<div class="n" style="left:607.80px;top:1660.68px;width:182.50px;font-size:20.42px">4.708</div>
<div class="n" style="left:790.30px;top:1660.68px;width:213.20px;font-size:20.42px">6.060</div>
<div class="n" style="left:1003.50px;top:1660.68px;width:182.50px;font-size:20.42px">7.265</div>
<div class="n w" style="left:1186.00px;top:1660.68px;width:167.40px;font-size:20.42px">7.393</div>
<div class="n" style="left:1353.40px;top:1660.68px;width:144.70px;font-size:20.42px">3.162</div>
<div class="n" style="left:1498.10px;top:1660.68px;width:155.70px;font-size:20.42px">2.924</div>
<div class="n" style="left:1653.80px;top:1660.68px;width:215.40px;font-size:20.42px">41.627</div>
<div class="c" style="left:208.40px;top:1688.17px;width:194.90px;height:38.58px;background:#ffc000"></div>
<div class="c" style="left:402.30px;top:1688.17px;width:206.50px;height:38.58px;background:#ffff99"></div>
<div class="c" style="left:607.80px;top:1688.17px;width:183.50px;height:38.58px;background:#9bbb59"></div>
<div class="c" style="left:790.30px;top:1688.17px;width:396.70px;height:38.58px;background:#ffff99"></div>
<div class="c" style="left:1186.00px;top:1688.17px;width:168.40px;height:38.58px;background:#1f497d"></div>
<div class="c" style="left:1353.40px;top:1688.17px;width:301.40px;height:38.58px;background:#9bbb59"></div>
<div class="c" style="left:1653.80px;top:1688.17px;width:215.40px;height:38.58px;background:#ffc000"></div>
<div class="t nm" id="bn9" style="left:42.00px;top:1698.91px;transform:scaleX(0.9309);font-size:19.71px;">Gia Lai</div>
<div class="n" style="left:208.40px;top:1698.25px;width:193.90px;font-size:20.42px">4.851</div>
<div class="n" style="left:402.30px;top:1698.25px;width:205.50px;font-size:20.42px">5.065</div>
<div class="n" style="left:607.80px;top:1698.25px;width:182.50px;font-size:20.42px">4.981</div>
<div class="n" style="left:790.30px;top:1698.25px;width:213.20px;font-size:20.42px">6.458</div>
<div class="n" style="left:1003.50px;top:1698.25px;width:182.50px;font-size:20.42px">7.126</div>
<div class="n w" style="left:1186.00px;top:1698.25px;width:167.40px;font-size:20.42px">7.258</div>
<div class="n" style="left:1353.40px;top:1698.25px;width:144.70px;font-size:20.42px">3.496</div>
<div class="n" style="left:1498.10px;top:1698.25px;width:155.70px;font-size:20.42px">2.962</div>
<div class="n" style="left:1653.80px;top:1698.25px;width:215.40px;font-size:20.42px">42.197</div>
<div class="c" style="left:208.40px;top:1725.75px;width:194.90px;height:38.58px;background:#9bbb59"></div>
<div class="c" style="left:402.30px;top:1725.75px;width:206.50px;height:38.58px;background:#ffc000"></div>
<div class="c" style="left:607.80px;top:1725.75px;width:183.50px;height:38.58px;background:#9bbb59"></div>
<div class="c" style="left:790.30px;top:1725.75px;width:396.70px;height:38.58px;background:#ffff99"></div>
<div class="c" style="left:1186.00px;top:1725.75px;width:168.40px;height:38.58px;background:#ffc000"></div>
<div class="c" style="left:1353.40px;top:1725.75px;width:145.70px;height:38.58px;background:#ffff99"></div>
<div class="c" style="left:1498.10px;top:1725.75px;width:156.70px;height:38.58px;background:#ffc000"></div>
<div class="c" style="left:1653.80px;top:1725.75px;width:215.40px;height:38.58px;background:#ffff99"></div>
<div class="t nm" id="bn10" style="left:42.00px;top:1736.49px;transform:scaleX(0.9482);font-size:19.71px;">Đắk Lắk</div>
<div class="n" style="left:208.40px;top:1735.83px;width:193.90px;font-size:20.42px">4.960</div>
<div class="n" style="left:402.30px;top:1735.83px;width:205.50px;font-size:20.42px">5.345</div>
<div class="n" style="left:607.80px;top:1735.83px;width:182.50px;font-size:20.42px">5.026</div>
<div class="n" style="left:790.30px;top:1735.83px;width:213.20px;font-size:20.42px">6.385</div>
<div class="n" style="left:1003.50px;top:1735.83px;width:182.50px;font-size:20.42px">6.998</div>
<div class="n" style="left:1186.00px;top:1735.83px;width:167.40px;font-size:20.42px">6.832</div>
<div class="n" style="left:1353.40px;top:1735.83px;width:144.70px;font-size:20.42px">3.215</div>
<div class="n" style="left:1498.10px;top:1735.83px;width:155.70px;font-size:20.42px">2.769</div>
<div class="n" style="left:1653.80px;top:1735.83px;width:215.40px;font-size:20.42px">41.530</div>
<div class="c" style="left:208.40px;top:1763.33px;width:194.90px;height:38.58px;background:#9bbb59"></div>
<div class="c" style="left:402.30px;top:1763.33px;width:206.50px;height:38.58px;background:#ffff99"></div>
<div class="c" style="left:607.80px;top:1763.33px;width:183.50px;height:38.58px;background:#9bbb59"></div>
<div class="c" style="left:790.30px;top:1763.33px;width:214.20px;height:38.58px;background:#ffff99"></div>
<div class="c" style="left:1003.50px;top:1763.33px;width:183.50px;height:38.58px;background:#9bbb59"></div>
<div class="c" style="left:1186.00px;top:1763.33px;width:168.40px;height:38.58px;background:#ffff99"></div>
<div class="c" style="left:1353.40px;top:1763.33px;width:145.70px;height:38.58px;background:#ffc000"></div>
<div class="c" style="left:1498.10px;top:1763.33px;width:156.70px;height:38.58px;background:#9bbb59"></div>
<div class="c" style="left:1653.80px;top:1763.33px;width:215.40px;height:38.58px;background:#ffc000"></div>
<div class="t nm" id="bn11" style="left:42.00px;top:1774.06px;transform:scaleX(0.9980);font-size:19.71px;">Đắk Nông</div>
<div class="n" style="left:208.40px;top:1773.40px;width:193.90px;font-size:20.42px">4.924</div>
<div class="n" style="left:402.30px;top:1773.40px;width:205.50px;font-size:20.42px">4.949</div>
<div class="n" style="left:607.80px;top:1773.40px;width:182.50px;font-size:20.42px">4.942</div>
<div class="n" style="left:790.30px;top:1773.40px;width:213.20px;font-size:20.42px">6.480</div>
<div class="n" style="left:1003.50px;top:1773.40px;width:182.50px;font-size:20.42px">7.442</div>
<div class="n" style="left:1186.00px;top:1773.40px;width:167.40px;font-size:20.42px">6.705</div>
<div class="n" style="left:1353.40px;top:1773.40px;width:144.70px;font-size:20.42px">3.302</div>
<div class="n" style="left:1498.10px;top:1773.40px;width:155.70px;font-size:20.42px">2.886</div>
<div class="n" style="left:1653.80px;top:1773.40px;width:215.40px;font-size:20.42px">41.630</div>
<div class="c" style="left:208.40px;top:1800.90px;width:400.40px;height:38.57px;background:#ffff99"></div>
<div class="c" style="left:607.80px;top:1800.90px;width:183.50px;height:38.57px;background:#9bbb59"></div>
<div class="c" style="left:790.30px;top:1800.90px;width:1078.90px;height:38.57px;background:#ffff99"></div>
<div class="t nm" id="bn12" style="left:42.00px;top:1811.64px;transform:scaleX(1.0032);font-size:19.71px;">Lâm Đồng</div>
<div class="n" style="left:208.40px;top:1810.98px;width:193.90px;font-size:20.42px">4.432</div>
<div class="n" style="left:402.30px;top:1810.98px;width:205.50px;font-size:20.42px">4.687</div>
<div class="n" style="left:607.80px;top:1810.98px;width:182.50px;font-size:20.42px">4.945</div>
<div class="n" style="left:790.30px;top:1810.98px;width:213.20px;font-size:20.42px">5.719</div>
<div class="n" style="left:1003.50px;top:1810.98px;width:182.50px;font-size:20.42px">6.786</div>
<div class="n" style="left:1186.00px;top:1810.98px;width:167.40px;font-size:20.42px">6.768</div>
<div class="n" style="left:1353.40px;top:1810.98px;width:144.70px;font-size:20.42px">2.814</div>
<div class="n" style="left:1498.10px;top:1810.98px;width:155.70px;font-size:20.42px">2.471</div>
<div class="n" style="left:1653.80px;top:1810.98px;width:215.40px;font-size:20.42px">38.623</div>
<div class="c" style="left:208.40px;top:1838.47px;width:194.90px;height:38.58px;background:#ffc000"></div>
<div class="c" style="left:402.30px;top:1838.47px;width:206.50px;height:38.58px;background:#9bbb59"></div>
<div class="c" style="left:607.80px;top:1838.47px;width:183.50px;height:38.58px;background:#1f497d"></div>
<div class="c" style="left:790.30px;top:1838.47px;width:214.20px;height:38.58px;background:#ffc000"></div>
<div class="c" style="left:1003.50px;top:1838.47px;width:183.50px;height:38.58px;background:#9bbb59"></div>
<div class="c" style="left:1186.00px;top:1838.47px;width:313.10px;height:38.58px;background:#ffff99"></div>
<div class="c" style="left:1498.10px;top:1838.47px;width:156.70px;height:38.58px;background:#1f497d"></div>
<div class="c" style="left:1653.80px;top:1838.47px;width:215.40px;height:38.58px;background:#ffc000"></div>
<div class="t nm" id="bn13" style="left:42.00px;top:1849.21px;transform:scaleX(0.9530);font-size:19.71px;">Bình Phước</div>
<div class="n" style="left:208.40px;top:1848.55px;width:193.90px;font-size:20.42px">4.753</div>
<div class="n" style="left:402.30px;top:1848.55px;width:205.50px;font-size:20.42px">5.500</div>
<div class="n w" style="left:607.80px;top:1848.55px;width:182.50px;font-size:20.42px">5.070</div>
<div class="n" style="left:790.30px;top:1848.55px;width:213.20px;font-size:20.42px">6.753</div>
<div class="n" style="left:1003.50px;top:1848.55px;width:182.50px;font-size:20.42px">7.411</div>
<div class="n" style="left:1186.00px;top:1848.55px;width:167.40px;font-size:20.42px">6.704</div>
<div class="n" style="left:1353.40px;top:1848.55px;width:144.70px;font-size:20.42px">3.036</div>
<div class="n w" style="left:1498.10px;top:1848.55px;width:155.70px;font-size:20.42px">3.010</div>
<div class="n" style="left:1653.80px;top:1848.55px;width:215.40px;font-size:20.42px">42.238</div>
<div class="c" style="left:208.40px;top:1876.05px;width:194.90px;height:38.57px;background:#ffc000"></div>
<div class="c" style="left:402.30px;top:1876.05px;width:206.50px;height:38.57px;background:#ffff99"></div>
<div class="c" style="left:607.80px;top:1876.05px;width:183.50px;height:38.57px;background:#9bbb59"></div>
<div class="c" style="left:790.30px;top:1876.05px;width:214.20px;height:38.57px;background:#ffff99"></div>
<div class="c" style="left:1003.50px;top:1876.05px;width:183.50px;height:38.57px;background:#ffc000"></div>
<div class="c" style="left:1186.00px;top:1876.05px;width:168.40px;height:38.57px;background:#9bbb59"></div>
<div class="c" style="left:1353.40px;top:1876.05px;width:301.40px;height:38.57px;background:#ffc000"></div>
<div class="c" style="left:1653.80px;top:1876.05px;width:215.40px;height:38.57px;background:#ffff99"></div>
<div class="t nm" id="bn14" style="left:42.00px;top:1886.79px;transform:scaleX(0.9780);font-size:19.71px;">Tây Ninh</div>
<div class="n" style="left:208.40px;top:1886.13px;width:193.90px;font-size:20.42px">4.524</div>
<div class="n" style="left:402.30px;top:1886.13px;width:205.50px;font-size:20.42px">5.059</div>
<div class="n" style="left:607.80px;top:1886.13px;width:182.50px;font-size:20.42px">4.932</div>
<div class="n" style="left:790.30px;top:1886.13px;width:213.20px;font-size:20.42px">6.574</div>
<div class="n" style="left:1003.50px;top:1886.13px;width:182.50px;font-size:20.42px">7.325</div>
<div class="n" style="left:1186.00px;top:1886.13px;width:167.40px;font-size:20.42px">7.067</div>
<div class="n" style="left:1353.40px;top:1886.13px;width:144.70px;font-size:20.42px">3.247</div>
<div class="n" style="left:1498.10px;top:1886.13px;width:155.70px;font-size:20.42px">2.614</div>
<div class="n" style="left:1653.80px;top:1886.13px;width:215.40px;font-size:20.42px">41.341</div>
<div class="c" style="left:208.40px;top:1913.62px;width:194.90px;height:38.58px;background:#ffff99"></div>
<div class="c" style="left:402.30px;top:1913.62px;width:206.50px;height:38.58px;background:#ffc000"></div>
<div class="c" style="left:607.80px;top:1913.62px;width:183.50px;height:38.58px;background:#ffff99"></div>
<div class="c" style="left:790.30px;top:1913.62px;width:214.20px;height:38.58px;background:#ffc000"></div>
<div class="c" style="left:1003.50px;top:1913.62px;width:183.50px;height:38.58px;background:#1f497d"></div>
<div class="c" style="left:1186.00px;top:1913.62px;width:313.10px;height:38.58px;background:#ffff99"></div>
<div class="c" style="left:1498.10px;top:1913.62px;width:156.70px;height:38.58px;background:#9bbb59"></div>
<div class="c" style="left:1653.80px;top:1913.62px;width:215.40px;height:38.58px;background:#ffff99"></div>
<div class="t nm" id="bn15" style="left:42.00px;top:1924.36px;transform:scaleX(0.9812);font-size:19.71px;">Bình Dương</div>
<div class="n" style="left:208.40px;top:1923.70px;width:193.90px;font-size:20.42px">4.290</div>
<div class="n" style="left:402.30px;top:1923.70px;width:205.50px;font-size:20.42px">5.089</div>
<div class="n" style="left:607.80px;top:1923.70px;width:182.50px;font-size:20.42px">4.654</div>
<div class="n" style="left:790.30px;top:1923.70px;width:213.20px;font-size:20.42px">6.599</div>
<div class="n w" style="left:1003.50px;top:1923.70px;width:182.50px;font-size:20.42px">7.524</div>
<div class="n" style="left:1186.00px;top:1923.70px;width:167.40px;font-size:20.42px">6.742</div>
<div class="n" style="left:1353.40px;top:1923.70px;width:144.70px;font-size:20.42px">3.066</div>
<div class="n" style="left:1498.10px;top:1923.70px;width:155.70px;font-size:20.42px">2.798</div>
<div class="n" style="left:1653.80px;top:1923.70px;width:215.40px;font-size:20.42px">40.762</div>
<div class="c" style="left:208.40px;top:1951.20px;width:400.40px;height:38.58px;background:#ffc000"></div>
<div class="c" style="left:607.80px;top:1951.20px;width:396.70px;height:38.58px;background:#9bbb59"></div>
<div class="c" style="left:1003.50px;top:1951.20px;width:183.50px;height:38.58px;background:#1f497d"></div>
<div class="c" style="left:1186.00px;top:1951.20px;width:168.40px;height:38.58px;background:#ffff99"></div>
<div class="c" style="left:1353.40px;top:1951.20px;width:145.70px;height:38.58px;background:#ffc000"></div>
<div class="c" style="left:1498.10px;top:1951.20px;width:156.70px;height:38.58px;background:#1f497d"></div>
<div class="c" style="left:1653.80px;top:1951.20px;width:215.40px;height:38.58px;background:#ffc000"></div>
<div class="t nm" id="bn16" style="left:42.00px;top:1961.94px;transform:scaleX(1.0043);font-size:19.71px;">Đồng Nai</div>
<div class="n" style="left:208.40px;top:1961.28px;width:193.90px;font-size:20.42px">4.647</div>
<div class="n" style="left:402.30px;top:1961.28px;width:205.50px;font-size:20.42px">5.213</div>
<div class="n" style="left:607.80px;top:1961.28px;width:182.50px;font-size:20.42px">4.973</div>
<div class="n" style="left:790.30px;top:1961.28px;width:213.20px;font-size:20.42px">6.917</div>
<div class="n w" style="left:1003.50px;top:1961.28px;width:182.50px;font-size:20.42px">7.522</div>
<div class="n" style="left:1186.00px;top:1961.28px;width:167.40px;font-size:20.42px">6.706</div>
<div class="n" style="left:1353.40px;top:1961.28px;width:144.70px;font-size:20.42px">3.251</div>
<div class="n w" style="left:1498.10px;top:1961.28px;width:155.70px;font-size:20.42px">3.275</div>
<div class="n" style="left:1653.80px;top:1961.28px;width:215.40px;font-size:20.42px">42.505</div>
<div class="c" style="left:208.40px;top:1988.78px;width:194.90px;height:38.57px;background:#9bbb59"></div>
<div class="c" style="left:402.30px;top:1988.78px;width:389.00px;height:38.57px;background:#1f497d"></div>
<div class="c" style="left:790.30px;top:1988.78px;width:214.20px;height:38.57px;background:#9bbb59"></div>
<div class="c" style="left:1003.50px;top:1988.78px;width:350.90px;height:38.57px;background:#1f497d"></div>
<div class="c" style="left:1353.40px;top:1988.78px;width:145.70px;height:38.57px;background:#ffc000"></div>
<div class="c" style="left:1498.10px;top:1988.78px;width:156.70px;height:38.57px;background:#9bbb59"></div>
<div class="c" style="left:1653.80px;top:1988.78px;width:215.40px;height:38.57px;background:#1f497d"></div>
<div class="t nm" id="bn17" style="left:42.00px;top:1999.51px;transform:scaleX(0.9438);font-size:19.71px;">Bà Rịa-Vũng Tàu</div>
<div class="n" style="left:208.40px;top:1998.85px;width:193.90px;font-size:20.42px">5.168</div>
<div class="n w" style="left:402.30px;top:1998.85px;width:205.50px;font-size:20.42px">5.798</div>
<div class="n w" style="left:607.80px;top:1998.85px;width:182.50px;font-size:20.42px">5.165</div>
<div class="n" style="left:790.30px;top:1998.85px;width:213.20px;font-size:20.42px">7.074</div>
<div class="n w" style="left:1003.50px;top:1998.85px;width:182.50px;font-size:20.42px">7.553</div>
<div class="n w" style="left:1186.00px;top:1998.85px;width:167.40px;font-size:20.42px">7.631</div>
<div class="n" style="left:1353.40px;top:1998.85px;width:144.70px;font-size:20.42px">3.227</div>
<div class="n" style="left:1498.10px;top:1998.85px;width:155.70px;font-size:20.42px">2.841</div>
<div class="n" style="left:1653.80px;top:1998.85px;width:215.40px;font-size:20.42px">44.456</div>
<div class="c" style="left:208.40px;top:2026.35px;width:194.90px;height:38.58px;background:#ffff99"></div>
<div class="c" style="left:402.30px;top:2026.35px;width:206.50px;height:38.58px;background:#9bbb59"></div>
<div class="c" style="left:607.80px;top:2026.35px;width:183.50px;height:38.58px;background:#ffc000"></div>
<div class="c" style="left:790.30px;top:2026.35px;width:214.20px;height:38.58px;background:#ffff99"></div>
<div class="c" style="left:1003.50px;top:2026.35px;width:183.50px;height:38.58px;background:#ffc000"></div>
<div class="c" style="left:1186.00px;top:2026.35px;width:168.40px;height:38.58px;background:#1f497d"></div>
<div class="c" style="left:1353.40px;top:2026.35px;width:145.70px;height:38.58px;background:#ffff99"></div>
<div class="c" style="left:1498.10px;top:2026.35px;width:156.70px;height:38.58px;background:#1f497d"></div>
<div class="c" style="left:1653.80px;top:2026.35px;width:215.40px;height:38.58px;background:#ffc000"></div>
<div class="t nm" id="bn18" style="left:42.00px;top:2037.09px;transform:scaleX(0.9692);font-size:19.71px;">TP. Hồ Chí Minh</div>
<div class="n" style="left:208.40px;top:2036.43px;width:193.90px;font-size:20.42px">4.445</div>
<div class="n" style="left:402.30px;top:2036.43px;width:205.50px;font-size:20.42px">5.382</div>
<div class="n" style="left:607.80px;top:2036.43px;width:182.50px;font-size:20.42px">4.802</div>
<div class="n" style="left:790.30px;top:2036.43px;width:213.20px;font-size:20.42px">6.363</div>
<div class="n" style="left:1003.50px;top:2036.43px;width:182.50px;font-size:20.42px">7.341</div>
<div class="n w" style="left:1186.00px;top:2036.43px;width:167.40px;font-size:20.42px">7.368</div>
<div class="n" style="left:1353.40px;top:2036.43px;width:144.70px;font-size:20.42px">2.820</div>
<div class="n w" style="left:1498.10px;top:2036.43px;width:155.70px;font-size:20.42px">3.464</div>
<div class="n" style="left:1653.80px;top:2036.43px;width:215.40px;font-size:20.42px">41.985</div>
<div class="c" style="left:208.40px;top:2063.93px;width:194.90px;height:38.57px;background:#9bbb59"></div>
<div class="c" style="left:402.30px;top:2063.93px;width:389.00px;height:38.57px;background:#ffff99"></div>
<div class="c" style="left:790.30px;top:2063.93px;width:396.70px;height:38.57px;background:#1f497d"></div>
<div class="c" style="left:1186.00px;top:2063.93px;width:683.20px;height:38.57px;background:#ffc000"></div>
<div class="t nm" id="bn19" style="left:42.00px;top:2074.66px;transform:scaleX(1.0225);font-size:19.71px;">Long An</div>
<div class="n" style="left:208.40px;top:2074.00px;width:193.90px;font-size:20.42px">4.941</div>
<div class="n" style="left:402.30px;top:2074.00px;width:205.50px;font-size:20.42px">5.071</div>
<div class="n" style="left:607.80px;top:2074.00px;width:182.50px;font-size:20.42px">4.663</div>
<div class="n w" style="left:790.30px;top:2074.00px;width:213.20px;font-size:20.42px">7.632</div>
<div class="n w" style="left:1003.50px;top:2074.00px;width:182.50px;font-size:20.42px">7.597</div>
<div class="n" style="left:1186.00px;top:2074.00px;width:167.40px;font-size:20.42px">6.903</div>
<div class="n" style="left:1353.40px;top:2074.00px;width:144.70px;font-size:20.42px">3.256</div>
<div class="n" style="left:1498.10px;top:2074.00px;width:155.70px;font-size:20.42px">2.611</div>
<div class="n" style="left:1653.80px;top:2074.00px;width:215.40px;font-size:20.42px">42.675</div>
<div class="c" style="left:208.40px;top:2101.50px;width:400.40px;height:38.57px;background:#ffc000"></div>
<div class="c" style="left:607.80px;top:2101.50px;width:183.50px;height:38.57px;background:#9bbb59"></div>
<div class="c" style="left:790.30px;top:2101.50px;width:214.20px;height:38.57px;background:#1f497d"></div>
<div class="c" style="left:1003.50px;top:2101.50px;width:183.50px;height:38.57px;background:#ffff99"></div>
<div class="c" style="left:1186.00px;top:2101.50px;width:313.10px;height:38.57px;background:#9bbb59"></div>
<div class="c" style="left:1498.10px;top:2101.50px;width:156.70px;height:38.57px;background:#ffff99"></div>
<div class="c" style="left:1653.80px;top:2101.50px;width:215.40px;height:38.57px;background:#ffc000"></div>
<div class="t nm" id="bn20" style="left:42.00px;top:2112.24px;transform:scaleX(0.9846);font-size:19.71px;">Tiền Giang</div>
<div class="n" style="left:208.40px;top:2111.58px;width:193.90px;font-size:20.42px">4.675</div>
<div class="n" style="left:402.30px;top:2111.58px;width:205.50px;font-size:20.42px">5.298</div>
<div class="n" style="left:607.80px;top:2111.58px;width:182.50px;font-size:20.42px">4.922</div>
<div class="n w" style="left:790.30px;top:2111.58px;width:213.20px;font-size:20.42px">7.346</div>
<div class="n" style="left:1003.50px;top:2111.58px;width:182.50px;font-size:20.42px">7.097</div>
<div class="n" style="left:1186.00px;top:2111.58px;width:167.40px;font-size:20.42px">7.127</div>
<div class="n" style="left:1353.40px;top:2111.58px;width:144.70px;font-size:20.42px">3.633</div>
<div class="n" style="left:1498.10px;top:2111.58px;width:155.70px;font-size:20.42px">2.199</div>
<div class="n" style="left:1653.80px;top:2111.58px;width:215.40px;font-size:20.42px">42.295</div>
<div class="c" style="left:208.40px;top:2139.07px;width:194.90px;height:38.58px;background:#ffc000"></div>
<div class="c" style="left:402.30px;top:2139.07px;width:784.70px;height:38.58px;background:#1f497d"></div>
<div class="c" style="left:1186.00px;top:2139.07px;width:168.40px;height:38.58px;background:#ffff99"></div>
<div class="c" style="left:1353.40px;top:2139.07px;width:145.70px;height:38.58px;background:#1f497d"></div>
<div class="c" style="left:1498.10px;top:2139.07px;width:156.70px;height:38.58px;background:#ffc000"></div>
<div class="c" style="left:1653.80px;top:2139.07px;width:215.40px;height:38.58px;background:#1f497d"></div>
<div class="t nm" id="bn21" style="left:42.00px;top:2149.81px;transform:scaleX(0.9561);font-size:19.71px;">Bến Tre</div>
<div class="n" style="left:208.40px;top:2149.15px;width:193.90px;font-size:20.42px">4.877</div>
<div class="n w" style="left:402.30px;top:2149.15px;width:205.50px;font-size:20.42px">5.619</div>
<div class="n w" style="left:607.80px;top:2149.15px;width:182.50px;font-size:20.42px">5.457</div>
<div class="n w" style="left:790.30px;top:2149.15px;width:213.20px;font-size:20.42px">7.825</div>
<div class="n w" style="left:1003.50px;top:2149.15px;width:182.50px;font-size:20.42px">7.648</div>
<div class="n" style="left:1186.00px;top:2149.15px;width:167.40px;font-size:20.42px">6.740</div>
<div class="n w" style="left:1353.40px;top:2149.15px;width:144.70px;font-size:20.42px">3.876</div>
<div class="n" style="left:1498.10px;top:2149.15px;width:155.70px;font-size:20.42px">2.587</div>
<div class="n w" style="left:1653.80px;top:2149.15px;width:215.40px;font-size:20.42px">44.629</div>
<div class="c" style="left:208.40px;top:2176.65px;width:400.40px;height:38.57px;background:#ffff99"></div>
<div class="c" style="left:607.80px;top:2176.65px;width:183.50px;height:38.57px;background:#ffc000"></div>
<div class="c" style="left:790.30px;top:2176.65px;width:214.20px;height:38.57px;background:#9bbb59"></div>
<div class="c" style="left:1003.50px;top:2176.65px;width:495.60px;height:38.57px;background:#1f497d"></div>
<div class="c" style="left:1498.10px;top:2176.65px;width:371.10px;height:38.57px;background:#ffc000"></div>
<div class="t nm" id="bn22" style="left:42.00px;top:2187.39px;transform:scaleX(0.9808);font-size:19.71px;">Trà Vinh</div>
<div class="n" style="left:208.40px;top:2186.73px;width:193.90px;font-size:20.42px">4.058</div>
<div class="n" style="left:402.30px;top:2186.73px;width:205.50px;font-size:20.42px">4.697</div>
<div class="n" style="left:607.80px;top:2186.73px;width:182.50px;font-size:20.42px">4.867</div>
<div class="n" style="left:790.30px;top:2186.73px;width:213.20px;font-size:20.42px">7.155</div>
<div class="n w" style="left:1003.50px;top:2186.73px;width:182.50px;font-size:20.42px">7.840</div>
<div class="n w" style="left:1186.00px;top:2186.73px;width:167.40px;font-size:20.42px">7.339</div>
<div class="n w" style="left:1353.40px;top:2186.73px;width:144.70px;font-size:20.42px">3.696</div>
<div class="n" style="left:1498.10px;top:2186.73px;width:155.70px;font-size:20.42px">2.628</div>
<div class="n" style="left:1653.80px;top:2186.73px;width:215.40px;font-size:20.42px">42.281</div>
<div class="c" style="left:208.40px;top:2214.22px;width:582.90px;height:38.58px;background:#ffff99"></div>
<div class="c" style="left:790.30px;top:2214.22px;width:214.20px;height:38.58px;background:#1f497d"></div>
<div class="c" style="left:1003.50px;top:2214.22px;width:350.90px;height:38.58px;background:#9bbb59"></div>
<div class="c" style="left:1353.40px;top:2214.22px;width:301.40px;height:38.58px;background:#1f497d"></div>
<div class="c" style="left:1653.80px;top:2214.22px;width:215.40px;height:38.58px;background:#9bbb59"></div>
<div class="t nm" id="bn23" style="left:42.00px;top:2224.96px;transform:scaleX(0.9952);font-size:19.71px;">Vĩnh Long</div>
<div class="n" style="left:208.40px;top:2224.30px;width:193.90px;font-size:20.42px">4.178</div>
<div class="n" style="left:402.30px;top:2224.30px;width:205.50px;font-size:20.42px">4.872</div>
<div class="n" style="left:607.80px;top:2224.30px;width:182.50px;font-size:20.42px">4.733</div>
<div class="n w" style="left:790.30px;top:2224.30px;width:213.20px;font-size:20.42px">7.288</div>
<div class="n" style="left:1003.50px;top:2224.30px;width:182.50px;font-size:20.42px">7.373</div>
<div class="n" style="left:1186.00px;top:2224.30px;width:167.40px;font-size:20.42px">7.199</div>
<div class="n w" style="left:1353.40px;top:2224.30px;width:144.70px;font-size:20.42px">4.528</div>
<div class="n w" style="left:1498.10px;top:2224.30px;width:155.70px;font-size:20.42px">3.030</div>
<div class="n" style="left:1653.80px;top:2224.30px;width:215.40px;font-size:20.42px">43.200</div>
<div class="c" style="left:208.40px;top:2251.80px;width:194.90px;height:38.57px;background:#ffc000"></div>
<div class="c" style="left:402.30px;top:2251.80px;width:1096.80px;height:38.57px;background:#1f497d"></div>
<div class="c" style="left:1498.10px;top:2251.80px;width:156.70px;height:38.57px;background:#ffc000"></div>
<div class="c" style="left:1653.80px;top:2251.80px;width:215.40px;height:38.57px;background:#1f497d"></div>
<div class="t nm" id="bn24" style="left:42.00px;top:2262.54px;transform:scaleX(1.0072);font-size:19.71px;">Đồng Tháp</div>
<div class="n" style="left:208.40px;top:2261.88px;width:193.90px;font-size:20.42px">4.721</div>
<div class="n w" style="left:402.30px;top:2261.88px;width:205.50px;font-size:20.42px">5.905</div>
<div class="n w" style="left:607.80px;top:2261.88px;width:182.50px;font-size:20.42px">5.138</div>
<div class="n w" style="left:790.30px;top:2261.88px;width:213.20px;font-size:20.42px">8.115</div>
<div class="n w" style="left:1003.50px;top:2261.88px;width:182.50px;font-size:20.42px">7.779</div>
<div class="n w" style="left:1186.00px;top:2261.88px;width:167.40px;font-size:20.42px">7.494</div>
<div class="n w" style="left:1353.40px;top:2261.88px;width:144.70px;font-size:20.42px">5.202</div>
<div class="n" style="left:1498.10px;top:2261.88px;width:155.70px;font-size:20.42px">2.608</div>
<div class="n w" style="left:1653.80px;top:2261.88px;width:215.40px;font-size:20.42px">46.961</div>
<div class="c" style="left:208.40px;top:2289.38px;width:582.90px;height:38.57px;background:#ffc000"></div>
<div class="c" style="left:790.30px;top:2289.38px;width:214.20px;height:38.57px;background:#1f497d"></div>
<div class="c" style="left:1003.50px;top:2289.38px;width:183.50px;height:38.57px;background:#ffc000"></div>
<div class="c" style="left:1186.00px;top:2289.38px;width:313.10px;height:38.57px;background:#1f497d"></div>
<div class="c" style="left:1498.10px;top:2289.38px;width:156.70px;height:38.57px;background:#ffff99"></div>
<div class="c" style="left:1653.80px;top:2289.38px;width:215.40px;height:38.57px;background:#1f497d"></div>
<div class="t nm" id="bn25" style="left:42.00px;top:2300.11px;transform:scaleX(0.9875);font-size:19.71px;">An Giang</div>
<div class="n" style="left:208.40px;top:2299.45px;width:193.90px;font-size:20.42px">4.617</div>
<div class="n" style="left:402.30px;top:2299.45px;width:205.50px;font-size:20.42px">5.114</div>
<div class="n" style="left:607.80px;top:2299.45px;width:182.50px;font-size:20.42px">4.763</div>
<div class="n w" style="left:790.30px;top:2299.45px;width:213.20px;font-size:20.42px">7.408</div>
<div class="n" style="left:1003.50px;top:2299.45px;width:182.50px;font-size:20.42px">7.317</div>
<div class="n w" style="left:1186.00px;top:2299.45px;width:167.40px;font-size:20.42px">7.632</div>
<div class="n w" style="left:1353.40px;top:2299.45px;width:144.70px;font-size:20.42px">4.559</div>
<div class="n" style="left:1498.10px;top:2299.45px;width:155.70px;font-size:20.42px">2.443</div>
<div class="n w" style="left:1653.80px;top:2299.45px;width:215.40px;font-size:20.42px">43.852</div>
<div class="c" style="left:208.40px;top:2326.95px;width:400.40px;height:38.58px;background:#ffff99"></div>
<div class="c" style="left:607.80px;top:2326.95px;width:396.70px;height:38.58px;background:#ffc000"></div>
<div class="c" style="left:1003.50px;top:2326.95px;width:183.50px;height:38.58px;background:#9bbb59"></div>
<div class="c" style="left:1186.00px;top:2326.95px;width:168.40px;height:38.58px;background:#ffff99"></div>
<div class="c" style="left:1353.40px;top:2326.95px;width:145.70px;height:38.58px;background:#9bbb59"></div>
<div class="c" style="left:1498.10px;top:2326.95px;width:156.70px;height:38.58px;background:#ffc000"></div>
<div class="c" style="left:1653.80px;top:2326.95px;width:215.40px;height:38.58px;background:#ffff99"></div>
<div class="t nm" id="bn26" style="left:42.00px;top:2337.69px;transform:scaleX(0.9757);font-size:19.71px;">Kiên Giang</div>
<div class="n" style="left:208.40px;top:2337.03px;width:193.90px;font-size:20.42px">4.254</div>
<div class="n" style="left:402.30px;top:2337.03px;width:205.50px;font-size:20.42px">4.810</div>
<div class="n" style="left:607.80px;top:2337.03px;width:182.50px;font-size:20.42px">4.841</div>
<div class="n" style="left:790.30px;top:2337.03px;width:213.20px;font-size:20.42px">6.873</div>
<div class="n" style="left:1003.50px;top:2337.03px;width:182.50px;font-size:20.42px">7.462</div>
<div class="n" style="left:1186.00px;top:2337.03px;width:167.40px;font-size:20.42px">6.517</div>
<div class="n" style="left:1353.40px;top:2337.03px;width:144.70px;font-size:20.42px">3.427</div>
<div class="n" style="left:1498.10px;top:2337.03px;width:155.70px;font-size:20.42px">2.619</div>
<div class="n" style="left:1653.80px;top:2337.03px;width:215.40px;font-size:20.42px">40.804</div>
<div class="c" style="left:208.40px;top:2364.53px;width:194.90px;height:38.58px;background:#ffc000"></div>
<div class="c" style="left:402.30px;top:2364.53px;width:206.50px;height:38.58px;background:#9bbb59"></div>
<div class="c" style="left:607.80px;top:2364.53px;width:183.50px;height:38.58px;background:#ffff99"></div>
<div class="c" style="left:790.30px;top:2364.53px;width:214.20px;height:38.58px;background:#9bbb59"></div>
<div class="c" style="left:1003.50px;top:2364.53px;width:183.50px;height:38.58px;background:#ffff99"></div>
<div class="c" style="left:1186.00px;top:2364.53px;width:168.40px;height:38.58px;background:#ffc000"></div>
<div class="c" style="left:1353.40px;top:2364.53px;width:145.70px;height:38.58px;background:#1f497d"></div>
<div class="c" style="left:1498.10px;top:2364.53px;width:156.70px;height:38.58px;background:#ffc000"></div>
<div class="c" style="left:1653.80px;top:2364.53px;width:215.40px;height:38.58px;background:#9bbb59"></div>
<div class="t nm" id="bn27" style="left:42.00px;top:2375.26px;transform:scaleX(0.9396);font-size:19.71px;">Cần Thơ</div>
<div class="n" style="left:208.40px;top:2374.60px;width:193.90px;font-size:20.42px">4.711</div>
<div class="n" style="left:402.30px;top:2374.60px;width:205.50px;font-size:20.42px">5.355</div>
<div class="n" style="left:607.80px;top:2374.60px;width:182.50px;font-size:20.42px">4.699</div>
<div class="n" style="left:790.30px;top:2374.60px;width:213.20px;font-size:20.42px">7.170</div>
<div class="n" style="left:1003.50px;top:2374.60px;width:182.50px;font-size:20.42px">7.092</div>
<div class="n" style="left:1186.00px;top:2374.60px;width:167.40px;font-size:20.42px">6.922</div>
<div class="n w" style="left:1353.40px;top:2374.60px;width:144.70px;font-size:20.42px">4.170</div>
<div class="n" style="left:1498.10px;top:2374.60px;width:155.70px;font-size:20.42px">2.766</div>
<div class="n" style="left:1653.80px;top:2374.60px;width:215.40px;font-size:20.42px">42.885</div>
<div class="c" style="left:208.40px;top:2402.10px;width:194.90px;height:38.57px;background:#ffff99"></div>
<div class="c" style="left:402.30px;top:2402.10px;width:206.50px;height:38.57px;background:#ffc000"></div>
<div class="c" style="left:607.80px;top:2402.10px;width:579.20px;height:38.57px;background:#9bbb59"></div>
<div class="c" style="left:1186.00px;top:2402.10px;width:168.40px;height:38.57px;background:#ffc000"></div>
<div class="c" style="left:1353.40px;top:2402.10px;width:145.70px;height:38.57px;background:#1f497d"></div>
<div class="c" style="left:1498.10px;top:2402.10px;width:156.70px;height:38.57px;background:#ffc000"></div>
<div class="c" style="left:1653.80px;top:2402.10px;width:215.40px;height:38.57px;background:#9bbb59"></div>
<div class="t nm" id="bn28" style="left:42.00px;top:2412.84px;transform:scaleX(0.9770);font-size:19.71px;">Hậu Giang</div>
<div class="n" style="left:208.40px;top:2412.18px;width:193.90px;font-size:20.42px">4.472</div>
<div class="n" style="left:402.30px;top:2412.18px;width:205.50px;font-size:20.42px">5.181</div>
<div class="n" style="left:607.80px;top:2412.18px;width:182.50px;font-size:20.42px">4.889</div>
<div class="n" style="left:790.30px;top:2412.18px;width:213.20px;font-size:20.42px">7.109</div>
<div class="n" style="left:1003.50px;top:2412.18px;width:182.50px;font-size:20.42px">7.432</div>
<div class="n" style="left:1186.00px;top:2412.18px;width:167.40px;font-size:20.42px">6.973</div>
<div class="n w" style="left:1353.40px;top:2412.18px;width:144.70px;font-size:20.42px">4.409</div>
<div class="n" style="left:1498.10px;top:2412.18px;width:155.70px;font-size:20.42px">2.613</div>
<div class="n" style="left:1653.80px;top:2412.18px;width:215.40px;font-size:20.42px">43.077</div>
<div class="c" style="left:208.40px;top:2439.68px;width:582.90px;height:38.57px;background:#ffff99"></div>
<div class="c" style="left:790.30px;top:2439.68px;width:214.20px;height:38.57px;background:#9bbb59"></div>
<div class="c" style="left:1003.50px;top:2439.68px;width:350.90px;height:38.57px;background:#ffff99"></div>
<div class="c" style="left:1353.40px;top:2439.68px;width:145.70px;height:38.57px;background:#9bbb59"></div>
<div class="c" style="left:1498.10px;top:2439.68px;width:371.10px;height:38.57px;background:#ffff99"></div>
<div class="t nm" id="bn29" style="left:42.00px;top:2450.41px;transform:scaleX(0.9658);font-size:19.71px;">Sóc Trăng</div>
<div class="n" style="left:208.40px;top:2449.75px;width:193.90px;font-size:20.42px">3.946</div>
<div class="n" style="left:402.30px;top:2449.75px;width:205.50px;font-size:20.42px">4.489</div>
<div class="n" style="left:607.80px;top:2449.75px;width:182.50px;font-size:20.42px">4.398</div>
<div class="n" style="left:790.30px;top:2449.75px;width:213.20px;font-size:20.42px">6.987</div>
<div class="n" style="left:1003.50px;top:2449.75px;width:182.50px;font-size:20.42px">7.230</div>
<div class="n" style="left:1186.00px;top:2449.75px;width:167.40px;font-size:20.42px">6.735</div>
<div class="n" style="left:1353.40px;top:2449.75px;width:144.70px;font-size:20.42px">3.601</div>
<div class="n" style="left:1498.10px;top:2449.75px;width:155.70px;font-size:20.42px">2.090</div>
<div class="n" style="left:1653.80px;top:2449.75px;width:215.40px;font-size:20.42px">39.476</div>
<div class="c" style="left:208.40px;top:2477.25px;width:400.40px;height:38.57px;background:#ffff99"></div>
<div class="c" style="left:607.80px;top:2477.25px;width:183.50px;height:38.57px;background:#9bbb59"></div>
<div class="c" style="left:790.30px;top:2477.25px;width:214.20px;height:38.57px;background:#ffc000"></div>
<div class="c" style="left:1003.50px;top:2477.25px;width:183.50px;height:38.57px;background:#ffff99"></div>
<div class="c" style="left:1186.00px;top:2477.25px;width:468.80px;height:38.57px;background:#ffc000"></div>
<div class="c" style="left:1653.80px;top:2477.25px;width:215.40px;height:38.57px;background:#ffff99"></div>
<div class="t nm" id="bn30" style="left:42.00px;top:2487.99px;transform:scaleX(0.9446);font-size:19.71px;">Bạc Liêu</div>
<div class="n" style="left:208.40px;top:2487.33px;width:193.90px;font-size:20.42px">4.266</div>
<div class="n" style="left:402.30px;top:2487.33px;width:205.50px;font-size:20.42px">4.772</div>
<div class="n" style="left:607.80px;top:2487.33px;width:182.50px;font-size:20.42px">4.998</div>
<div class="n" style="left:790.30px;top:2487.33px;width:213.20px;font-size:20.42px">6.792</div>
<div class="n" style="left:1003.50px;top:2487.33px;width:182.50px;font-size:20.42px">7.175</div>
<div class="n" style="left:1186.00px;top:2487.33px;width:167.40px;font-size:20.42px">6.907</div>
<div class="n" style="left:1353.40px;top:2487.33px;width:144.70px;font-size:20.42px">3.378</div>
<div class="n" style="left:1498.10px;top:2487.33px;width:155.70px;font-size:20.42px">2.626</div>
<div class="n" style="left:1653.80px;top:2487.33px;width:215.40px;font-size:20.42px">40.914</div>
<div class="c" style="left:208.40px;top:2514.82px;width:194.90px;height:37.58px;background:#ffc000"></div>
<div class="c" style="left:402.30px;top:2514.82px;width:389.00px;height:37.58px;background:#9bbb59"></div>
<div class="c" style="left:790.30px;top:2514.82px;width:214.20px;height:37.58px;background:#1f497d"></div>
<div class="c" style="left:1003.50px;top:2514.82px;width:183.50px;height:37.58px;background:#9bbb59"></div>
<div class="c" style="left:1186.00px;top:2514.82px;width:168.40px;height:37.58px;background:#ffff99"></div>
<div class="c" style="left:1353.40px;top:2514.82px;width:515.80px;height:37.58px;background:#9bbb59"></div>
<div class="t nm" id="bn31" style="left:42.00px;top:2525.56px;transform:scaleX(0.9490);font-size:19.71px;">Cà Mau</div>
<div class="n" style="left:208.40px;top:2524.90px;width:193.90px;font-size:20.42px">4.839</div>
<div class="n" style="left:402.30px;top:2524.90px;width:205.50px;font-size:20.42px">5.353</div>
<div class="n" style="left:607.80px;top:2524.90px;width:182.50px;font-size:20.42px">5.005</div>
<div class="n w" style="left:790.30px;top:2524.90px;width:213.20px;font-size:20.42px">7.364</div>
<div class="n" style="left:1003.50px;top:2524.90px;width:182.50px;font-size:20.42px">7.390</div>
<div class="n" style="left:1186.00px;top:2524.90px;width:167.40px;font-size:20.42px">6.355</div>
<div class="n" style="left:1353.40px;top:2524.90px;width:144.70px;font-size:20.42px">3.660</div>
<div class="n" style="left:1498.10px;top:2524.90px;width:155.70px;font-size:20.42px">2.808</div>
<div class="n" style="left:1653.80px;top:2524.90px;width:215.40px;font-size:20.42px">42.773</div>
<div class="t hd" id="h0_0" style="left:50.00px;top:102.80px;transform:scaleX(0.9929);">Tỉnh/Thành phố</div>
<div class="t hd" id="h1_0" style="left:239.05px;top:102.80px;transform:scaleX(0.9407);">1: Tham gia của</div>
<div class="t hd" id="h1_1" style="left:235.15px;top:128.50px;transform:scaleX(0.9398);">người dân ở cấp</div>
<div class="t hd" id="h1_2" style="left:287.25px;top:154.20px;transform:scaleX(0.8142);">cơ sở</div>
<div class="t hd" id="h2_0" style="left:420.35px;top:102.80px;transform:scaleX(0.9703);">2: Công khai, minh</div>
<div class="t hd" id="h2_1" style="left:423.50px;top:128.50px;transform:scaleX(0.9711);">bạch trong việc ra</div>
<div class="t hd" id="h2_2" style="left:456.00px;top:154.20px;transform:scaleX(1.0118);">quyết định</div>
<div class="t hd" id="h3_0" style="left:631.30px;top:102.80px;transform:scaleX(0.9606);">3: Trách nhiệm</div>
<div class="t hd" id="h3_1" style="left:639.60px;top:128.50px;transform:scaleX(0.9842);">giải trình với</div>
<div class="t hd" id="h3_2" style="left:651.45px;top:154.20px;transform:scaleX(0.9548);">người dân</div>
<div class="t hd" id="h4_0" style="left:811.15px;top:102.80px;transform:scaleX(0.9712);">4: Kiểm soát tham</div>
<div class="t hd" id="h4_1" style="left:815.20px;top:128.50px;transform:scaleX(1.0021);">nhũng trong khu</div>
<div class="t hd" id="h4_2" style="left:854.00px;top:154.20px;transform:scaleX(0.9060);">vực công</div>
<div class="t hd" id="h5_0" style="left:1018.60px;top:102.80px;transform:scaleX(0.9604);">5: Thủ tục hành</div>
<div class="t hd" id="h5_1" style="left:1038.95px;top:128.50px;transform:scaleX(0.9590);">chính công</div>
<div class="t hd" id="h6_0" style="left:1206.80px;top:102.80px;transform:scaleX(0.9453);">6: Cung ứng</div>
<div class="t hd" id="h6_1" style="left:1203.70px;top:128.50px;transform:scaleX(0.9615);">dịch vụ công</div>
<div class="t hd" id="h7_0" style="left:1367.70px;top:102.80px;transform:scaleX(0.9918);">7: Quản trị</div>
<div class="t hd" id="h7_1" style="left:1365.05px;top:128.50px;transform:scaleX(0.9613);">môi trường</div>
<div class="t hd" id="h8_0" style="left:1516.45px;top:102.80px;transform:scaleX(0.9878);">8: Quản trị</div>
<div class="t hd" id="h8_1" style="left:1533.00px;top:128.50px;transform:scaleX(0.9688);">điện tử</div>
<div class="t hd" id="h9_0" style="left:1671.10px;top:102.80px;transform:scaleX(0.9640);">Chỉ số PAPI 2020</div>
<div class="t hd" id="h9_1" style="left:1657.20px;top:128.50px;transform:scaleX(0.9750);">tổng hợp (không có</div>
<div class="t hd" id="h9_2" style="left:1706.80px;top:154.20px;transform:scaleX(0.9774);">trọng số)</div>
<div class="ln" style="left:38.30px;top:92.80px;width:1818.10px;height:1.80px"></div>
<div class="ln" style="left:38.30px;top:92.80px;width:1.80px;height:1240.60px"></div>
<div class="ln" style="left:1854.60px;top:92.80px;width:1.80px;height:1240.60px"></div>
<div class="ln" style="left:213.70px;top:93.70px;width:1.60px;height:88.30px;background:#2a2a2a"></div>
<div class="ln" style="left:405.00px;top:93.70px;width:1.60px;height:88.30px;background:#2a2a2a"></div>
<div class="ln" style="left:607.70px;top:93.70px;width:1.60px;height:88.30px;background:#2a2a2a"></div>
<div class="ln" style="left:788.90px;top:93.70px;width:1.60px;height:88.30px;background:#2a2a2a"></div>
<div class="ln" style="left:999.10px;top:93.70px;width:1.60px;height:88.30px;background:#2a2a2a"></div>
<div class="ln" style="left:1179.50px;top:93.70px;width:1.60px;height:88.30px;background:#2a2a2a"></div>
<div class="ln" style="left:1344.90px;top:93.70px;width:1.60px;height:88.30px;background:#2a2a2a"></div>
<div class="ln" style="left:1488.10px;top:93.70px;width:1.60px;height:88.30px;background:#2a2a2a"></div>
<div class="ln" style="left:1642.00px;top:93.70px;width:1.60px;height:88.30px;background:#2a2a2a"></div>
<div class="ln" style="left:38.30px;top:181.00px;width:1818.10px;height:2.00px;background:#303030"></div>
<div class="ln l2" style="left:29.85px;top:1348.50px;width:1840.20px;height:1.40px;background:#303030"></div>
<div class="ln l2" style="left:29.85px;top:2551.80px;width:1840.20px;height:1.40px;background:#202020"></div>
<div class="ln l2" style="left:29.85px;top:1344.00px;width:1.70px;height:1209.20px"></div>
<div class="ln l2" style="left:1868.35px;top:1344.00px;width:1.70px;height:1209.20px"></div>
<div class="ln l2" style="left:207.55px;top:1344.00px;width:1.70px;height:5.20px"></div>
<div class="ln l2" style="left:401.45px;top:1344.00px;width:1.70px;height:5.20px"></div>
<div class="ln l2" style="left:606.95px;top:1344.00px;width:1.70px;height:5.20px"></div>
<div class="ln l2" style="left:789.45px;top:1344.00px;width:1.70px;height:5.20px"></div>
<div class="ln l2" style="left:1002.65px;top:1344.00px;width:1.70px;height:5.20px"></div>
<div class="ln l2" style="left:1185.15px;top:1344.00px;width:1.70px;height:5.20px"></div>
<div class="ln l2" style="left:1352.55px;top:1344.00px;width:1.70px;height:5.20px"></div>
<div class="ln l2" style="left:1497.25px;top:1344.00px;width:1.70px;height:5.20px"></div>
<div class="ln l2" style="left:1652.95px;top:1344.00px;width:1.70px;height:5.20px"></div>
<div class="t ft" id="f0" style="left:30.50px;top:2565.20px;transform:scaleX(0.9416);word-spacing:-0.726px">Ghi chú: Số liệu trong bảng biểu thị giá trị điểm trung bình một tỉnh/thành phố có thể đạt được trên thang điểm từ 10-80 điểm với điểm chỉ số tổng hợp PAPI 2020 (ở cột số liệu đầu tiên bên phải) và từ 1-10 với điểm chỉ số nội dung (ở các cột số liệu còn</div>
<div class="t ft" id="f1" style="left:30.50px;top:2588.20px;transform:scaleX(0.9416);word-spacing:0.595px">lại bên trái). Màu xanh da trời: nhóm đạt điểm cao nhất (16 tỉnh/thành phố); màu xanh lá cây: nhóm đạt điểm trung bình cao (16 tỉnh/thành phố); màu cam: nhóm đạt điểm trung bình thấp (15 tỉnh/thành phố); màu vàng nhạt: nhóm đạt điểm thấp</div>
<div class="t ft" id="f2" style="left:30.50px;top:2611.20px;transform:scaleX(0.9416);word-spacing:0.000px">nhất (16 tỉnh/thành phố). Thứ tự các tỉnh/thành phố được sắp xếp theo mã tỉnh.</div>
</div></body></html>
